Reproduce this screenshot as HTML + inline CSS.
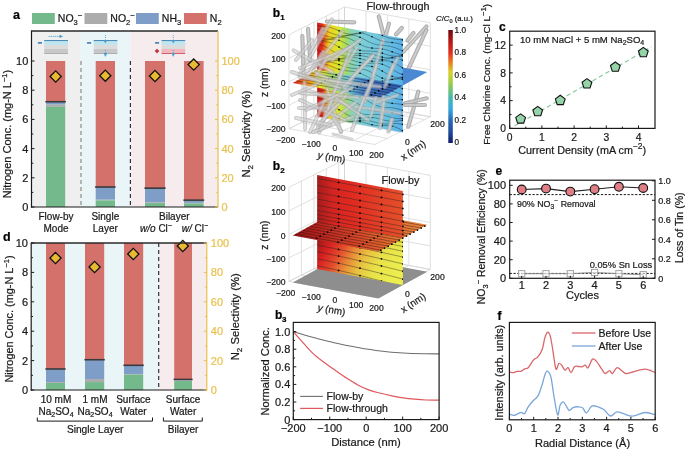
<!DOCTYPE html>
<html><head><meta charset="utf-8"><style>
html,body{margin:0;padding:0;background:#fff;width:685px;height:450px;overflow:hidden}
svg{display:block;font-family:"Liberation Sans",sans-serif;will-change:transform}
text{stroke:currentColor;stroke-width:0.22px}
</style></head><body>
<svg width="685" height="450" viewBox="0 0 685 450">
<defs><linearGradient id="b2h" gradientUnits="userSpaceOnUse" x1="292.70" y1="235.50" x2="427.30" y2="224.70"><stop offset="0" stop-color="#8c1414"/><stop offset="0.2" stop-color="#b82420"/><stop offset="0.45" stop-color="#d44428"/><stop offset="0.7" stop-color="#e06c30"/><stop offset="1" stop-color="#e88a40"/></linearGradient><linearGradient id="b2vt" gradientUnits="userSpaceOnUse" x1="317.15" y1="0.00" x2="402.85" y2="0.00"><stop offset="0" stop-color="#a41c1c"/><stop offset="0.18" stop-color="#d42420"/><stop offset="0.4" stop-color="#e02a20"/><stop offset="1" stop-color="#e4502a"/></linearGradient><linearGradient id="b2vb" gradientUnits="userSpaceOnUse" x1="317.00" y1="240.00" x2="392.00" y2="285.00"><stop offset="0" stop-color="#961818"/><stop offset="0.15" stop-color="#d82020"/><stop offset="0.3" stop-color="#e44c2c"/><stop offset="0.43" stop-color="#e88a36"/><stop offset="0.57" stop-color="#e8c040"/><stop offset="0.74" stop-color="#e8e248"/><stop offset="1" stop-color="#ecee4e"/></linearGradient><clipPath id="clipb2lo"><polygon points="317.15,222.10 402.85,238.10 402.85,285.10 317.15,269.10"/></clipPath><linearGradient id="b1h" gradientUnits="userSpaceOnUse" x1="292.70" y1="82.90" x2="427.30" y2="72.10"><stop offset="0" stop-color="#d01c1c"/><stop offset="0.1" stop-color="#f08020"/><stop offset="0.2" stop-color="#e8e030"/><stop offset="0.3" stop-color="#a0d870"/><stop offset="0.4" stop-color="#70c8d8"/><stop offset="0.52" stop-color="#5aa0dc"/><stop offset="0.7" stop-color="#4c86d0"/><stop offset="1" stop-color="#4a8ad4"/></linearGradient><linearGradient id="b1vt" gradientUnits="userSpaceOnUse" x1="317.15" y1="0.00" x2="402.85" y2="0.00"><stop offset="0" stop-color="#d01818"/><stop offset="0.06" stop-color="#e03020"/><stop offset="0.1" stop-color="#f08820"/><stop offset="0.14" stop-color="#f0d020"/><stop offset="0.26" stop-color="#d8e830"/><stop offset="0.33" stop-color="#a8dc60"/><stop offset="0.4" stop-color="#88d4b0"/><stop offset="0.5" stop-color="#7cd0d8"/><stop offset="0.78" stop-color="#6cc4e0"/><stop offset="1" stop-color="#58b0e8"/></linearGradient><clipPath id="clipb1v"><polygon points="317.15,22.50 402.85,38.50 402.85,132.50 317.15,116.50"/></clipPath><linearGradient id="b1hd" gradientUnits="userSpaceOnUse" x1="355.11" y1="80.18" x2="335.55" y2="90.90"><stop offset="0" stop-color="#3058b0"/><stop offset="1" stop-color="#2850a8"/></linearGradient><linearGradient id="b1hdark" gradientUnits="userSpaceOnUse" x1="355.71" y1="76.70" x2="381.45" y2="94.08"><stop offset="0" stop-color="#2c54a8"/><stop offset="1" stop-color="#2c54a8"/></linearGradient><linearGradient id="b1hfade" gradientUnits="userSpaceOnUse" x1="351.43" y1="75.90" x2="393.68" y2="87.38"><stop offset="0" stop-color="#2a50a8" stop-opacity="0"/><stop offset="0.45" stop-color="#2a50a8" stop-opacity="0.55"/><stop offset="1" stop-color="#2a50a8" stop-opacity="0.7"/></linearGradient><linearGradient id="jet" gradientUnits="userSpaceOnUse" x1="0.00" y1="143.00" x2="0.00" y2="30.00"><stop offset="0" stop-color="#101a6c"/><stop offset="0.1" stop-color="#204c9c"/><stop offset="0.2" stop-color="#2868b8"/><stop offset="0.3" stop-color="#38a8e0"/><stop offset="0.4" stop-color="#48b8b0"/><stop offset="0.5" stop-color="#88c860"/><stop offset="0.56" stop-color="#b0d040"/><stop offset="0.63" stop-color="#d8d030"/><stop offset="0.71" stop-color="#e88020"/><stop offset="0.8" stop-color="#e03020"/><stop offset="0.9" stop-color="#b81818"/><stop offset="1" stop-color="#6a0a10"/></linearGradient></defs>
<rect x="32" y="31" width="48.7" height="176" fill="#efefef" />
<rect x="80.7" y="31" width="49.999999999999986" height="176" fill="#eaf5f8" />
<rect x="130.7" y="31" width="87.30000000000001" height="176" fill="#f7eced" />
<line x1="81" y1="61" x2="81" y2="207" stroke="#8a8a8a" stroke-width="1.2" stroke-dasharray="4 3"/>
<line x1="130.4" y1="61" x2="130.4" y2="207" stroke="#333" stroke-width="1.2" stroke-dasharray="4 3"/>
<rect x="46" y="61.0" width="19.200000000000003" height="40.73400000000001" fill="#d4716b" />
<rect x="46" y="101.73400000000001" width="19.200000000000003" height="2.9200000000000017" fill="#7e9ec8" />
<rect x="46" y="104.65400000000001" width="19.200000000000003" height="2.1899999999999835" fill="#acacac" />
<rect x="46" y="106.844" width="19.200000000000003" height="100.156" fill="#74b98c" />
<line x1="45.4" y1="101.73400000000001" x2="65.8" y2="101.73400000000001" stroke="#3a3a3a" stroke-width="1.6" />
<rect x="95.7" y="61.0" width="19.299999999999997" height="125.99799999999999" fill="#d4716b" />
<rect x="95.7" y="186.998" width="19.299999999999997" height="12.701999999999998" fill="#7e9ec8" />
<rect x="95.7" y="199.7" width="19.299999999999997" height="0.7300000000000182" fill="#acacac" />
<rect x="95.7" y="200.43" width="19.299999999999997" height="6.569999999999993" fill="#74b98c" />
<line x1="95.10000000000001" y1="186.998" x2="115.6" y2="186.998" stroke="#3a3a3a" stroke-width="1.6" />
<rect x="145" y="61.0" width="20" height="127.166" fill="#d4716b" />
<rect x="145" y="188.166" width="20" height="14.307999999999993" fill="#7e9ec8" />
<rect x="145" y="202.474" width="20" height="0.5840000000000032" fill="#acacac" />
<rect x="145" y="203.058" width="20" height="3.9420000000000073" fill="#74b98c" />
<line x1="144.4" y1="188.166" x2="165.6" y2="188.166" stroke="#3a3a3a" stroke-width="1.6" />
<rect x="184" y="61.0" width="19.599999999999994" height="139.138" fill="#d4716b" />
<rect x="184" y="200.138" width="19.599999999999994" height="2.774000000000001" fill="#7e9ec8" />
<rect x="184" y="202.912" width="19.599999999999994" height="0.5840000000000032" fill="#acacac" />
<rect x="184" y="203.496" width="19.599999999999994" height="3.5039999999999907" fill="#74b98c" />
<line x1="183.4" y1="200.138" x2="204.2" y2="200.138" stroke="#3a3a3a" stroke-width="1.6" />
<path d="M55.7 70.9 L61.300000000000004 76.5 L55.7 82.1 L50.1 76.5 Z" fill="#e8b931" stroke="#111" stroke-width="1.3"/>
<path d="M105.3 70.10000000000001 L110.89999999999999 75.7 L105.3 81.3 L99.7 75.7 Z" fill="#e8b931" stroke="#111" stroke-width="1.3"/>
<path d="M155 70.4 L160.6 76 L155 81.6 L149.4 76 Z" fill="#e8b931" stroke="#111" stroke-width="1.3"/>
<path d="M193.7 58.99999999999999 L199.29999999999998 64.6 L193.7 70.19999999999999 L188.1 64.6 Z" fill="#e8b931" stroke="#111" stroke-width="1.3"/>
<line x1="31.5" y1="31" x2="218" y2="31" stroke="#2a2a2a" stroke-width="1.3" />
<line x1="31.5" y1="30.4" x2="31.5" y2="207.6" stroke="#1a1a1a" stroke-width="1.2" />
<line x1="30.9" y1="207" x2="218" y2="207" stroke="#1a1a1a" stroke-width="1.2" />
<line x1="218" y1="31" x2="218" y2="207.6" stroke="#e8c14e" stroke-width="1.2" />
<line x1="31.5" y1="207.0" x2="34.5" y2="207.0" stroke="#1a1a1a" stroke-width="1" />
<line x1="218" y1="207.0" x2="215" y2="207.0" stroke="#e8c14e" stroke-width="1" />
<text x="28.3" y="210.9" font-size="11" text-anchor="end" fill="#1a1a1a" color="#1a1a1a" font-weight="normal" >0</text>
<text x="221.5" y="210.9" font-size="11" text-anchor="start" fill="#e8c14e" color="#e8c14e" font-weight="normal" >0</text>
<line x1="31.5" y1="192.4" x2="33.3" y2="192.4" stroke="#1a1a1a" stroke-width="1" />
<line x1="218" y1="192.4" x2="216.2" y2="192.4" stroke="#e8c14e" stroke-width="1" />
<line x1="31.5" y1="177.8" x2="34.5" y2="177.8" stroke="#1a1a1a" stroke-width="1" />
<line x1="218" y1="177.8" x2="215" y2="177.8" stroke="#e8c14e" stroke-width="1" />
<text x="28.3" y="181.70000000000002" font-size="11" text-anchor="end" fill="#1a1a1a" color="#1a1a1a" font-weight="normal" >2</text>
<text x="221.5" y="181.70000000000002" font-size="11" text-anchor="start" fill="#e8c14e" color="#e8c14e" font-weight="normal" >20</text>
<line x1="31.5" y1="163.2" x2="33.3" y2="163.2" stroke="#1a1a1a" stroke-width="1" />
<line x1="218" y1="163.2" x2="216.2" y2="163.2" stroke="#e8c14e" stroke-width="1" />
<line x1="31.5" y1="148.6" x2="34.5" y2="148.6" stroke="#1a1a1a" stroke-width="1" />
<line x1="218" y1="148.6" x2="215" y2="148.6" stroke="#e8c14e" stroke-width="1" />
<text x="28.3" y="152.5" font-size="11" text-anchor="end" fill="#1a1a1a" color="#1a1a1a" font-weight="normal" >4</text>
<text x="221.5" y="152.5" font-size="11" text-anchor="start" fill="#e8c14e" color="#e8c14e" font-weight="normal" >40</text>
<line x1="31.5" y1="134.0" x2="33.3" y2="134.0" stroke="#1a1a1a" stroke-width="1" />
<line x1="218" y1="134.0" x2="216.2" y2="134.0" stroke="#e8c14e" stroke-width="1" />
<line x1="31.5" y1="119.4" x2="34.5" y2="119.4" stroke="#1a1a1a" stroke-width="1" />
<line x1="218" y1="119.4" x2="215" y2="119.4" stroke="#e8c14e" stroke-width="1" />
<text x="28.3" y="123.30000000000001" font-size="11" text-anchor="end" fill="#1a1a1a" color="#1a1a1a" font-weight="normal" >6</text>
<text x="221.5" y="123.30000000000001" font-size="11" text-anchor="start" fill="#e8c14e" color="#e8c14e" font-weight="normal" >60</text>
<line x1="31.5" y1="104.8" x2="33.3" y2="104.8" stroke="#1a1a1a" stroke-width="1" />
<line x1="218" y1="104.8" x2="216.2" y2="104.8" stroke="#e8c14e" stroke-width="1" />
<line x1="31.5" y1="90.2" x2="34.5" y2="90.2" stroke="#1a1a1a" stroke-width="1" />
<line x1="218" y1="90.2" x2="215" y2="90.2" stroke="#e8c14e" stroke-width="1" />
<text x="28.3" y="94.10000000000001" font-size="11" text-anchor="end" fill="#1a1a1a" color="#1a1a1a" font-weight="normal" >8</text>
<text x="221.5" y="94.10000000000001" font-size="11" text-anchor="start" fill="#e8c14e" color="#e8c14e" font-weight="normal" >80</text>
<line x1="31.5" y1="75.6" x2="33.3" y2="75.6" stroke="#1a1a1a" stroke-width="1" />
<line x1="218" y1="75.6" x2="216.2" y2="75.6" stroke="#e8c14e" stroke-width="1" />
<line x1="31.5" y1="61.0" x2="34.5" y2="61.0" stroke="#1a1a1a" stroke-width="1" />
<line x1="218" y1="61.0" x2="215" y2="61.0" stroke="#e8c14e" stroke-width="1" />
<text x="28.3" y="64.9" font-size="11" text-anchor="end" fill="#1a1a1a" color="#1a1a1a" font-weight="normal" >10</text>
<text x="221.5" y="64.9" font-size="11" text-anchor="start" fill="#e8c14e" color="#e8c14e" font-weight="normal" >100</text>
<rect x="31.5" y="243" width="127.80000000000001" height="147" fill="#eaf5f8" />
<rect x="159.3" y="243" width="47.5" height="147" fill="#f7eced" />
<line x1="158.7" y1="243" x2="158.7" y2="390" stroke="#333" stroke-width="1.2" stroke-dasharray="4 3"/>
<rect x="46" y="243.0" width="19" height="125.97899999999998" fill="#d4716b" />
<rect x="46" y="368.979" width="19" height="13.083000000000027" fill="#7e9ec8" />
<rect x="46" y="382.062" width="19" height="0.882000000000005" fill="#acacac" />
<rect x="46" y="382.944" width="19" height="7.055999999999983" fill="#74b98c" />
<line x1="45.4" y1="368.979" x2="65.6" y2="368.979" stroke="#3a3a3a" stroke-width="1.6" />
<rect x="85" y="243.0" width="19.200000000000003" height="116.71800000000002" fill="#d4716b" />
<rect x="85" y="359.718" width="19.200000000000003" height="19.257000000000005" fill="#7e9ec8" />
<rect x="85" y="378.975" width="19.200000000000003" height="3.086999999999989" fill="#acacac" />
<rect x="85" y="382.062" width="19.200000000000003" height="7.937999999999988" fill="#74b98c" />
<line x1="84.4" y1="359.718" x2="104.8" y2="359.718" stroke="#3a3a3a" stroke-width="1.6" />
<rect x="124" y="243.0" width="19.19999999999999" height="122.30399999999997" fill="#d4716b" />
<rect x="124" y="365.304" width="19.19999999999999" height="8.673000000000002" fill="#7e9ec8" />
<rect x="124" y="373.977" width="19.19999999999999" height="0.5880000000000223" fill="#acacac" />
<rect x="124" y="374.565" width="19.19999999999999" height="15.435000000000002" fill="#74b98c" />
<line x1="123.4" y1="365.304" x2="143.79999999999998" y2="365.304" stroke="#3a3a3a" stroke-width="1.6" />
<rect x="174.2" y="243.0" width="17.80000000000001" height="136.416" fill="#d4716b" />
<rect x="174.2" y="379.416" width="17.80000000000001" height="1.0289999999999964" fill="#7e9ec8" />
<rect x="174.2" y="380.445" width="17.80000000000001" height="0.5880000000000223" fill="#acacac" />
<rect x="174.2" y="381.033" width="17.80000000000001" height="8.966999999999985" fill="#74b98c" />
<line x1="173.6" y1="379.416" x2="192.6" y2="379.416" stroke="#3a3a3a" stroke-width="1.6" />
<path d="M55.5 252.4 L61.1 258 L55.5 263.6 L49.9 258 Z" fill="#e8b931" stroke="#111" stroke-width="1.3"/>
<path d="M94.6 261.4 L100.19999999999999 267 L94.6 272.6 L89.0 267 Z" fill="#e8b931" stroke="#111" stroke-width="1.3"/>
<path d="M133.3 248.4 L138.9 254 L133.3 259.6 L127.70000000000002 254 Z" fill="#e8b931" stroke="#111" stroke-width="1.3"/>
<path d="M182.8 240.4 L188.4 246 L182.8 251.6 L177.20000000000002 246 Z" fill="#e8b931" stroke="#111" stroke-width="1.3"/>
<line x1="31.2" y1="243" x2="206.8" y2="243" stroke="#2a2a2a" stroke-width="1.3" />
<line x1="31.2" y1="242.4" x2="31.2" y2="390.6" stroke="#1a1a1a" stroke-width="1.2" />
<line x1="30.599999999999998" y1="390" x2="206.8" y2="390" stroke="#1a1a1a" stroke-width="1.2" />
<line x1="206.8" y1="243" x2="206.8" y2="390.6" stroke="#e8c14e" stroke-width="1.2" />
<line x1="31.2" y1="390.0" x2="34.2" y2="390.0" stroke="#1a1a1a" stroke-width="1" />
<line x1="206.8" y1="390.0" x2="203.8" y2="390.0" stroke="#e8c14e" stroke-width="1" />
<text x="28" y="393.9" font-size="11" text-anchor="end" fill="#1a1a1a" color="#1a1a1a" font-weight="normal" >0</text>
<text x="210.8" y="393.9" font-size="11" text-anchor="start" fill="#e8c14e" color="#e8c14e" font-weight="normal" >0</text>
<line x1="31.2" y1="375.3" x2="33.0" y2="375.3" stroke="#1a1a1a" stroke-width="1" />
<line x1="206.8" y1="375.3" x2="205.0" y2="375.3" stroke="#e8c14e" stroke-width="1" />
<line x1="31.2" y1="360.6" x2="34.2" y2="360.6" stroke="#1a1a1a" stroke-width="1" />
<line x1="206.8" y1="360.6" x2="203.8" y2="360.6" stroke="#e8c14e" stroke-width="1" />
<text x="28" y="364.5" font-size="11" text-anchor="end" fill="#1a1a1a" color="#1a1a1a" font-weight="normal" >2</text>
<text x="210.8" y="364.5" font-size="11" text-anchor="start" fill="#e8c14e" color="#e8c14e" font-weight="normal" >20</text>
<line x1="31.2" y1="345.9" x2="33.0" y2="345.9" stroke="#1a1a1a" stroke-width="1" />
<line x1="206.8" y1="345.9" x2="205.0" y2="345.9" stroke="#e8c14e" stroke-width="1" />
<line x1="31.2" y1="331.2" x2="34.2" y2="331.2" stroke="#1a1a1a" stroke-width="1" />
<line x1="206.8" y1="331.2" x2="203.8" y2="331.2" stroke="#e8c14e" stroke-width="1" />
<text x="28" y="335.09999999999997" font-size="11" text-anchor="end" fill="#1a1a1a" color="#1a1a1a" font-weight="normal" >4</text>
<text x="210.8" y="335.09999999999997" font-size="11" text-anchor="start" fill="#e8c14e" color="#e8c14e" font-weight="normal" >40</text>
<line x1="31.2" y1="316.5" x2="33.0" y2="316.5" stroke="#1a1a1a" stroke-width="1" />
<line x1="206.8" y1="316.5" x2="205.0" y2="316.5" stroke="#e8c14e" stroke-width="1" />
<line x1="31.2" y1="301.8" x2="34.2" y2="301.8" stroke="#1a1a1a" stroke-width="1" />
<line x1="206.8" y1="301.8" x2="203.8" y2="301.8" stroke="#e8c14e" stroke-width="1" />
<text x="28" y="305.7" font-size="11" text-anchor="end" fill="#1a1a1a" color="#1a1a1a" font-weight="normal" >6</text>
<text x="210.8" y="305.7" font-size="11" text-anchor="start" fill="#e8c14e" color="#e8c14e" font-weight="normal" >60</text>
<line x1="31.2" y1="287.1" x2="33.0" y2="287.1" stroke="#1a1a1a" stroke-width="1" />
<line x1="206.8" y1="287.1" x2="205.0" y2="287.1" stroke="#e8c14e" stroke-width="1" />
<line x1="31.2" y1="272.4" x2="34.2" y2="272.4" stroke="#1a1a1a" stroke-width="1" />
<line x1="206.8" y1="272.4" x2="203.8" y2="272.4" stroke="#e8c14e" stroke-width="1" />
<text x="28" y="276.29999999999995" font-size="11" text-anchor="end" fill="#1a1a1a" color="#1a1a1a" font-weight="normal" >8</text>
<text x="210.8" y="276.29999999999995" font-size="11" text-anchor="start" fill="#e8c14e" color="#e8c14e" font-weight="normal" >80</text>
<line x1="31.2" y1="257.70000000000005" x2="33.0" y2="257.70000000000005" stroke="#1a1a1a" stroke-width="1" />
<line x1="206.8" y1="257.70000000000005" x2="205.0" y2="257.70000000000005" stroke="#e8c14e" stroke-width="1" />
<line x1="31.2" y1="243.0" x2="34.2" y2="243.0" stroke="#1a1a1a" stroke-width="1" />
<line x1="206.8" y1="243.0" x2="203.8" y2="243.0" stroke="#e8c14e" stroke-width="1" />
<text x="28" y="246.9" font-size="11" text-anchor="end" fill="#1a1a1a" color="#1a1a1a" font-weight="normal" >10</text>
<text x="210.8" y="246.9" font-size="11" text-anchor="start" fill="#e8c14e" color="#e8c14e" font-weight="normal" >100</text>
<rect x="32" y="13" width="22.8" height="11" fill="#74b98c" />
<text x="57.8" y="22" font-size="10.5" text-anchor="start" fill="#1a1a1a" color="#1a1a1a" font-weight="normal" >NO<tspan font-size="7.5" baseline-shift="-2.62">3</tspan><tspan font-size="7.5" baseline-shift="4.50">−</tspan></text>
<rect x="84.5" y="13" width="22.8" height="11" fill="#acacac" />
<text x="110.3" y="22" font-size="10.5" text-anchor="start" fill="#1a1a1a" color="#1a1a1a" font-weight="normal" >NO<tspan font-size="7.5" baseline-shift="-2.62">2</tspan><tspan font-size="7.5" baseline-shift="4.50">−</tspan></text>
<rect x="136" y="13" width="22.8" height="11" fill="#7e9ec8" />
<text x="161.8" y="22" font-size="10.5" text-anchor="start" fill="#1a1a1a" color="#1a1a1a" font-weight="normal" >NH<tspan font-size="7.5" baseline-shift="-2.62">3</tspan></text>
<rect x="184" y="13" width="22.8" height="11" fill="#d4716b" />
<text x="209.8" y="22" font-size="10.5" text-anchor="start" fill="#1a1a1a" color="#1a1a1a" font-weight="normal" >N<tspan font-size="7.5" baseline-shift="-2.62">2</tspan></text>
<text x="13" y="18.8" font-size="12.5" text-anchor="start" fill="#000" color="#000" font-weight="bold" >a</text>
<text x="3" y="241" font-size="12.5" text-anchor="start" fill="#000" color="#000" font-weight="bold" >d</text>
<text x="0" y="0" font-size="11.0" text-anchor="middle" fill="#1a1a1a" color="#1a1a1a" transform="translate(11.3 134) rotate(-90)">Nitrogen Conc. (mg-N L<tspan font-size="7.5" baseline-shift="4.50">−1</tspan>)</text>
<text x="0" y="0" font-size="11.26" text-anchor="middle" fill="#1a1a1a" color="#1a1a1a" transform="translate(250.2 134.1) rotate(-90)">N<tspan font-size="8" baseline-shift="-2.80">2</tspan> Selectivity (%)</text>
<text x="0" y="0" font-size="10.9" text-anchor="middle" fill="#1a1a1a" color="#1a1a1a" transform="translate(12.5 319) rotate(-90)">Nitrogen Conc. (mg-N L<tspan font-size="7.5" baseline-shift="4.50">−1</tspan>)</text>
<text x="0" y="0" font-size="11.26" text-anchor="middle" fill="#1a1a1a" color="#1a1a1a" transform="translate(239.2 316.8) rotate(-90)">N<tspan font-size="8" baseline-shift="-2.80">2</tspan> Selectivity (%)</text>
<text x="56" y="220.3" font-size="10" text-anchor="middle" fill="#1a1a1a" color="#1a1a1a" font-weight="normal" >Flow-by</text>
<text x="56" y="232.3" font-size="10" text-anchor="middle" fill="#1a1a1a" color="#1a1a1a" font-weight="normal" >Mode</text>
<text x="105.3" y="220.3" font-size="10" text-anchor="middle" fill="#1a1a1a" color="#1a1a1a" font-weight="normal" >Single</text>
<text x="105.3" y="232.3" font-size="10" text-anchor="middle" fill="#1a1a1a" color="#1a1a1a" font-weight="normal" >Layer</text>
<text x="174.3" y="220.3" font-size="10" text-anchor="middle" fill="#1a1a1a" color="#1a1a1a" font-weight="normal" >Bilayer</text>
<text x="156" y="232.3" font-size="10" text-anchor="middle" fill="#1a1a1a" color="#1a1a1a" font-weight="normal" ><tspan font-style="italic">w/o</tspan> Cl<tspan font-size="7" baseline-shift="4">−</tspan></text>
<text x="195" y="232.3" font-size="10" text-anchor="middle" fill="#1a1a1a" color="#1a1a1a" font-weight="normal" ><tspan font-style="italic">w/</tspan> Cl<tspan font-size="7" baseline-shift="4">−</tspan></text>
<text x="56" y="402.8" font-size="10" text-anchor="middle" fill="#1a1a1a" color="#1a1a1a" font-weight="normal" >10 mM</text>
<text x="56" y="414.8" font-size="10" text-anchor="middle" fill="#1a1a1a" color="#1a1a1a" font-weight="normal" >Na<tspan font-size="7" baseline-shift="-2.45">2</tspan>SO<tspan font-size="7" baseline-shift="-2.45">4</tspan></text>
<text x="95" y="402.8" font-size="10" text-anchor="middle" fill="#1a1a1a" color="#1a1a1a" font-weight="normal" >1 mM</text>
<text x="95" y="414.8" font-size="10" text-anchor="middle" fill="#1a1a1a" color="#1a1a1a" font-weight="normal" >Na<tspan font-size="7" baseline-shift="-2.45">2</tspan>SO<tspan font-size="7" baseline-shift="-2.45">4</tspan></text>
<text x="133.4" y="402.8" font-size="10" text-anchor="middle" fill="#1a1a1a" color="#1a1a1a" font-weight="normal" >Surface</text>
<text x="133.4" y="414.8" font-size="10" text-anchor="middle" fill="#1a1a1a" color="#1a1a1a" font-weight="normal" >Water</text>
<text x="183.1" y="402.8" font-size="10" text-anchor="middle" fill="#1a1a1a" color="#1a1a1a" font-weight="normal" >Surface</text>
<text x="183.1" y="414.8" font-size="10" text-anchor="middle" fill="#1a1a1a" color="#1a1a1a" font-weight="normal" >Water</text>
<path d="M37.3 417.5 V421.1 H152.5 V417.5" fill="none" stroke="#1a1a1a" stroke-width="1"/>
<path d="M163.4 417.5 V421.1 H202.3 V417.5" fill="none" stroke="#1a1a1a" stroke-width="1"/>
<text x="95.2" y="433.4" font-size="10.2" text-anchor="middle" fill="#1a1a1a" color="#1a1a1a" font-weight="normal" >Single Layer</text>
<text x="183.1" y="433.2" font-size="10" text-anchor="middle" fill="#1a1a1a" color="#1a1a1a" font-weight="normal" >Bilayer</text>
<rect x="37.8" y="42.1" width="4.2" height="1.7" fill="#4a86b4" rx="0.5"/>
<rect x="44.2" y="41.1" width="23.799999999999997" height="3.9" fill="#bfe6ee" />
<rect x="44.2" y="45" width="23.799999999999997" height="4" fill="#dcdcdc" />
<rect x="44.2" y="49" width="23.799999999999997" height="4" fill="#c8c8c8" />
<rect x="44.2" y="53" width="23.799999999999997" height="0.9" fill="#a8a8a8" />
<rect x="44.2" y="40" width="23.799999999999997" height="1.1" fill="#4f8bb8" />
<circle cx="49.2" cy="36.4" r="0.55" fill="#4d9dcf"/>
<circle cx="51.2" cy="36.4" r="0.55" fill="#4d9dcf"/>
<circle cx="53.2" cy="36.4" r="0.55" fill="#4d9dcf"/>
<circle cx="55.2" cy="36.4" r="0.55" fill="#4d9dcf"/>
<circle cx="57.2" cy="36.4" r="0.55" fill="#4d9dcf"/>
<path d="M59.5 34.7 L63.2 36.4 L59.5 38.1 Z" fill="#4d9dcf"/>
<line x1="58.5" y1="36.4" x2="61" y2="36.4" stroke="#4d9dcf" stroke-width="0.8" />
<rect x="87" y="42.1" width="4.2" height="1.7" fill="#4a86b4" rx="0.5"/>
<rect x="93.7" y="41.1" width="23.700000000000003" height="3.9" fill="#bfe6ee" />
<rect x="93.7" y="45" width="23.700000000000003" height="4" fill="#dcdcdc" />
<rect x="93.7" y="49" width="23.700000000000003" height="4" fill="#c8c8c8" />
<rect x="93.7" y="53" width="23.700000000000003" height="0.9" fill="#a8a8a8" />
<rect x="93.7" y="40" width="23.700000000000003" height="1.1" fill="#4f8bb8" />
<circle cx="105.4" cy="35.5" r="0.55" fill="#4d9dcf"/>
<circle cx="105.4" cy="37.5" r="0.55" fill="#4d9dcf"/>
<circle cx="105.4" cy="50.2" r="0.55" fill="#4d9dcf"/>
<path d="M103.60000000000001 40.3 L105.4 43.4 L107.2 40.3 Z" fill="#4d9dcf"/>
<line x1="105.4" y1="39.3" x2="105.4" y2="41.5" stroke="#4d9dcf" stroke-width="0.8" />
<path d="M103.5 53 L105.4 57 L107.30000000000001 53 Z" fill="#4d9dcf"/>
<line x1="105.4" y1="51.8" x2="105.4" y2="54" stroke="#4d9dcf" stroke-width="0.8" />
<rect x="155" y="42.1" width="4.2" height="1.7" fill="#4a86b4" rx="0.5"/>
<rect x="161.5" y="41.1" width="23.69999999999999" height="3.9" fill="#bfe6ee" />
<rect x="161.5" y="45" width="23.69999999999999" height="4" fill="#dcdcdc" />
<rect x="161.5" y="49" width="23.69999999999999" height="4" fill="#f0b8bc" />
<rect x="161.5" y="53" width="23.69999999999999" height="0.9" fill="#d0505a" />
<rect x="161.5" y="40" width="23.69999999999999" height="1.1" fill="#4f8bb8" />
<rect x="154.9" y="50.3" width="4.2" height="1.5" fill="#c4282c" />
<rect x="156.25" y="48.95" width="1.5" height="4.2" fill="#c4282c" />
<circle cx="173.3" cy="35.5" r="0.55" fill="#4d9dcf"/>
<circle cx="173.3" cy="37.5" r="0.55" fill="#4d9dcf"/>
<circle cx="173.3" cy="50.2" r="0.55" fill="#4d9dcf"/>
<path d="M171.5 40.3 L173.3 43.4 L175.10000000000002 40.3 Z" fill="#4d9dcf"/>
<line x1="173.3" y1="39.3" x2="173.3" y2="41.5" stroke="#4d9dcf" stroke-width="0.8" />
<path d="M171.4 53 L173.3 57 L175.20000000000002 53 Z" fill="#4d9dcf"/>
<line x1="173.3" y1="51.8" x2="173.3" y2="54" stroke="#4d9dcf" stroke-width="0.8" />
<line x1="514.53" y1="125.971" x2="651.38" y2="46.855000000000004" stroke="#86c99c" stroke-width="1.2" stroke-dasharray="4.5 3"/>
<polygon points="520.65,113.83 525.55,117.38 523.68,123.14 517.62,123.14 515.75,117.38" fill="#94d4a8" stroke="#111" stroke-width="1.1"/>
<polygon points="537.71,106.40 542.61,109.96 540.74,115.72 534.69,115.72 532.82,109.96" fill="#94d4a8" stroke="#111" stroke-width="1.1"/>
<polygon points="560.25,95.30 565.15,98.85 563.28,104.61 557.23,104.61 555.36,98.85" fill="#94d4a8" stroke="#111" stroke-width="1.1"/>
<polygon points="586.98,78.64 591.88,82.20 590.01,87.96 583.95,87.96 582.08,82.20" fill="#94d4a8" stroke="#111" stroke-width="1.1"/>
<polygon points="615.32,61.98 620.21,65.54 618.34,71.30 612.29,71.30 610.42,65.54" fill="#94d4a8" stroke="#111" stroke-width="1.1"/>
<polygon points="643.33,47.41 648.23,50.97 646.36,56.73 640.30,56.73 638.43,50.97" fill="#94d4a8" stroke="#111" stroke-width="1.1"/>
<rect x="509.7" y="31.2" width="145.3" height="97.2" fill="none" stroke="#1a1a1a" stroke-width="1.2"/>
<line x1="509.7" y1="128.4" x2="512.7" y2="128.4" stroke="#1a1a1a" stroke-width="1" />
<text x="505.9" y="132.1" font-size="10.3" text-anchor="end" fill="#1a1a1a" color="#1a1a1a" font-weight="normal" >0</text>
<line x1="509.7" y1="114.52000000000001" x2="511.5" y2="114.52000000000001" stroke="#1a1a1a" stroke-width="1" />
<line x1="509.7" y1="100.64" x2="512.7" y2="100.64" stroke="#1a1a1a" stroke-width="1" />
<text x="505.9" y="104.34" font-size="10.3" text-anchor="end" fill="#1a1a1a" color="#1a1a1a" font-weight="normal" >4</text>
<line x1="509.7" y1="86.76" x2="511.5" y2="86.76" stroke="#1a1a1a" stroke-width="1" />
<line x1="509.7" y1="72.88" x2="512.7" y2="72.88" stroke="#1a1a1a" stroke-width="1" />
<text x="505.9" y="76.58" font-size="10.3" text-anchor="end" fill="#1a1a1a" color="#1a1a1a" font-weight="normal" >8</text>
<line x1="509.7" y1="59.0" x2="511.5" y2="59.0" stroke="#1a1a1a" stroke-width="1" />
<line x1="509.7" y1="45.120000000000005" x2="512.7" y2="45.120000000000005" stroke="#1a1a1a" stroke-width="1" />
<text x="505.9" y="48.82000000000001" font-size="10.3" text-anchor="end" fill="#1a1a1a" color="#1a1a1a" font-weight="normal" >12</text>
<line x1="509.7" y1="128.4" x2="509.7" y2="125.4" stroke="#1a1a1a" stroke-width="1" />
<text x="509.7" y="140.6" font-size="10.3" text-anchor="middle" fill="#1a1a1a" color="#1a1a1a" font-weight="normal" >0</text>
<line x1="525.8" y1="128.4" x2="525.8" y2="126.60000000000001" stroke="#1a1a1a" stroke-width="1" />
<line x1="541.9" y1="128.4" x2="541.9" y2="125.4" stroke="#1a1a1a" stroke-width="1" />
<text x="541.9" y="140.6" font-size="10.3" text-anchor="middle" fill="#1a1a1a" color="#1a1a1a" font-weight="normal" >1</text>
<line x1="558.0" y1="128.4" x2="558.0" y2="126.60000000000001" stroke="#1a1a1a" stroke-width="1" />
<line x1="574.1" y1="128.4" x2="574.1" y2="125.4" stroke="#1a1a1a" stroke-width="1" />
<text x="574.1" y="140.6" font-size="10.3" text-anchor="middle" fill="#1a1a1a" color="#1a1a1a" font-weight="normal" >2</text>
<line x1="590.2" y1="128.4" x2="590.2" y2="126.60000000000001" stroke="#1a1a1a" stroke-width="1" />
<line x1="606.3" y1="128.4" x2="606.3" y2="125.4" stroke="#1a1a1a" stroke-width="1" />
<text x="606.3" y="140.6" font-size="10.3" text-anchor="middle" fill="#1a1a1a" color="#1a1a1a" font-weight="normal" >3</text>
<line x1="622.4" y1="128.4" x2="622.4" y2="126.60000000000001" stroke="#1a1a1a" stroke-width="1" />
<line x1="638.5" y1="128.4" x2="638.5" y2="125.4" stroke="#1a1a1a" stroke-width="1" />
<text x="638.5" y="140.6" font-size="10.3" text-anchor="middle" fill="#1a1a1a" color="#1a1a1a" font-weight="normal" >4</text>
<text x="499" y="30.8" font-size="12" text-anchor="start" fill="#000" color="#000" font-weight="bold" >c</text>
<text x="520" y="43.3" font-size="9.55" text-anchor="start" fill="#1a1a1a" color="#1a1a1a" font-weight="normal" >10 mM NaCl + 5 mM Na<tspan font-size="7" baseline-shift="-2.45">2</tspan>SO<tspan font-size="7" baseline-shift="-2.45">4</tspan></text>
<text x="518.3" y="154.3" font-size="10.8" text-anchor="start" fill="#1a1a1a" color="#1a1a1a" font-weight="normal" >Current Density (mA cm<tspan font-size="8.5" baseline-shift="5.10">−2</tspan>)</text>
<text x="0" y="0" font-size="9.85" text-anchor="middle" fill="#1a1a1a" color="#1a1a1a" transform="translate(490.2 74.3) rotate(-90)">Free Chlorine Conc. (mg-Cl L<tspan font-size="7.8" baseline-shift="4.20">−1</tspan>)</text>
<line x1="509.7" y1="194.60000000000002" x2="655" y2="194.60000000000002" stroke="#111" stroke-width="1" stroke-dasharray="2.2 1.6"/>
<line x1="509.7" y1="273.425" x2="655" y2="273.425" stroke="#111" stroke-width="1" stroke-dasharray="2.2 1.6"/>
<polyline points="521.7,273.7 546.0,273.7 570.3000000000001,273.7 594.6,272.5 618.9000000000001,273.7 643.2,274.7" fill="none" stroke="#8a8a8a" stroke-width="1"/>
<rect x="518.6" y="270.59999999999997" width="6.2" height="6.2" fill="#fff" fill-opacity="0.55" stroke="#a0a0a0" stroke-width="1"/>
<rect x="542.9" y="270.59999999999997" width="6.2" height="6.2" fill="#fff" fill-opacity="0.55" stroke="#a0a0a0" stroke-width="1"/>
<rect x="567.2" y="270.59999999999997" width="6.2" height="6.2" fill="#fff" fill-opacity="0.55" stroke="#a0a0a0" stroke-width="1"/>
<rect x="591.5" y="269.4" width="6.2" height="6.2" fill="#fff" fill-opacity="0.55" stroke="#a0a0a0" stroke-width="1"/>
<rect x="615.8000000000001" y="270.59999999999997" width="6.2" height="6.2" fill="#fff" fill-opacity="0.55" stroke="#a0a0a0" stroke-width="1"/>
<rect x="640.1" y="271.59999999999997" width="6.2" height="6.2" fill="#fff" fill-opacity="0.55" stroke="#a0a0a0" stroke-width="1"/>
<polyline points="521.7,189.5 546.0,188.6 570.3000000000001,191.6 594.6,189.2 618.9000000000001,186.8 643.2,188.0" fill="none" stroke="#222" stroke-width="1.1"/>
<circle cx="521.7" cy="189.5" r="4.4" fill="#e07e86" stroke="#111" stroke-width="1.1"/>
<circle cx="546.0" cy="188.6" r="4.4" fill="#e07e86" stroke="#111" stroke-width="1.1"/>
<circle cx="570.3000000000001" cy="191.6" r="4.4" fill="#e07e86" stroke="#111" stroke-width="1.1"/>
<circle cx="594.6" cy="189.2" r="4.4" fill="#e07e86" stroke="#111" stroke-width="1.1"/>
<circle cx="618.9000000000001" cy="186.8" r="4.4" fill="#e07e86" stroke="#111" stroke-width="1.1"/>
<circle cx="643.2" cy="188.0" r="4.4" fill="#e07e86" stroke="#111" stroke-width="1.1"/>
<rect x="509.7" y="180.2" width="145.3" height="98.10000000000002" fill="none" stroke="#1a1a1a" stroke-width="1.2"/>
<line x1="509.7" y1="278.3" x2="512.7" y2="278.3" stroke="#1a1a1a" stroke-width="1" />
<text x="506" y="282.2" font-size="11" text-anchor="end" fill="#1a1a1a" color="#1a1a1a" font-weight="normal" >0</text>
<line x1="509.7" y1="259.7" x2="512.7" y2="259.7" stroke="#1a1a1a" stroke-width="1" />
<text x="506" y="263.59999999999997" font-size="11" text-anchor="end" fill="#1a1a1a" color="#1a1a1a" font-weight="normal" >20</text>
<line x1="509.7" y1="241.10000000000002" x2="512.7" y2="241.10000000000002" stroke="#1a1a1a" stroke-width="1" />
<text x="506" y="245.00000000000003" font-size="11" text-anchor="end" fill="#1a1a1a" color="#1a1a1a" font-weight="normal" >40</text>
<line x1="509.7" y1="222.5" x2="512.7" y2="222.5" stroke="#1a1a1a" stroke-width="1" />
<text x="506" y="226.4" font-size="11" text-anchor="end" fill="#1a1a1a" color="#1a1a1a" font-weight="normal" >60</text>
<line x1="509.7" y1="203.9" x2="512.7" y2="203.9" stroke="#1a1a1a" stroke-width="1" />
<text x="506" y="207.8" font-size="11" text-anchor="end" fill="#1a1a1a" color="#1a1a1a" font-weight="normal" >80</text>
<line x1="509.7" y1="185.3" x2="512.7" y2="185.3" stroke="#1a1a1a" stroke-width="1" />
<text x="506" y="189.20000000000002" font-size="11" text-anchor="end" fill="#1a1a1a" color="#1a1a1a" font-weight="normal" >100</text>
<line x1="655" y1="278.3" x2="652" y2="278.3" stroke="#1a1a1a" stroke-width="1" />
<text x="658.2" y="281.5" font-size="9" text-anchor="start" fill="#1a1a1a" color="#1a1a1a" font-weight="normal" >0</text>
<line x1="655" y1="258.8" x2="652" y2="258.8" stroke="#1a1a1a" stroke-width="1" />
<text x="658.2" y="262.0" font-size="9" text-anchor="start" fill="#1a1a1a" color="#1a1a1a" font-weight="normal" >0.2</text>
<line x1="655" y1="239.3" x2="652" y2="239.3" stroke="#1a1a1a" stroke-width="1" />
<text x="658.2" y="242.5" font-size="9" text-anchor="start" fill="#1a1a1a" color="#1a1a1a" font-weight="normal" >0.4</text>
<line x1="655" y1="219.8" x2="652" y2="219.8" stroke="#1a1a1a" stroke-width="1" />
<text x="658.2" y="223.0" font-size="9" text-anchor="start" fill="#1a1a1a" color="#1a1a1a" font-weight="normal" >0.6</text>
<line x1="655" y1="200.3" x2="652" y2="200.3" stroke="#1a1a1a" stroke-width="1" />
<text x="658.2" y="203.5" font-size="9" text-anchor="start" fill="#1a1a1a" color="#1a1a1a" font-weight="normal" >0.8</text>
<line x1="655" y1="180.8" x2="652" y2="180.8" stroke="#1a1a1a" stroke-width="1" />
<text x="658.2" y="184.0" font-size="9" text-anchor="start" fill="#1a1a1a" color="#1a1a1a" font-weight="normal" >1.0</text>
<line x1="521.7" y1="278.3" x2="521.7" y2="275.8" stroke="#1a1a1a" stroke-width="1" />
<text x="521.7" y="289" font-size="11" text-anchor="middle" fill="#1a1a1a" color="#1a1a1a" font-weight="normal" >1</text>
<line x1="546.0" y1="278.3" x2="546.0" y2="275.8" stroke="#1a1a1a" stroke-width="1" />
<text x="546.0" y="289" font-size="11" text-anchor="middle" fill="#1a1a1a" color="#1a1a1a" font-weight="normal" >2</text>
<line x1="570.3000000000001" y1="278.3" x2="570.3000000000001" y2="275.8" stroke="#1a1a1a" stroke-width="1" />
<text x="570.3000000000001" y="289" font-size="11" text-anchor="middle" fill="#1a1a1a" color="#1a1a1a" font-weight="normal" >3</text>
<line x1="594.6" y1="278.3" x2="594.6" y2="275.8" stroke="#1a1a1a" stroke-width="1" />
<text x="594.6" y="289" font-size="11" text-anchor="middle" fill="#1a1a1a" color="#1a1a1a" font-weight="normal" >4</text>
<line x1="618.9000000000001" y1="278.3" x2="618.9000000000001" y2="275.8" stroke="#1a1a1a" stroke-width="1" />
<text x="618.9000000000001" y="289" font-size="11" text-anchor="middle" fill="#1a1a1a" color="#1a1a1a" font-weight="normal" >5</text>
<line x1="643.2" y1="278.3" x2="643.2" y2="275.8" stroke="#1a1a1a" stroke-width="1" />
<text x="643.2" y="289" font-size="11" text-anchor="middle" fill="#1a1a1a" color="#1a1a1a" font-weight="normal" >6</text>
<text x="495.5" y="175.3" font-size="12" text-anchor="start" fill="#000" color="#000" font-weight="bold" >e</text>
<text x="517" y="206.9" font-size="8.85" text-anchor="start" fill="#1a1a1a" color="#1a1a1a" font-weight="normal" >90% NO<tspan font-size="6.8" baseline-shift="-2.38">3</tspan><tspan font-size="6.8" baseline-shift="4.08">−</tspan> Removal</text>
<text x="589.7" y="268" font-size="9.3" text-anchor="start" fill="#1a1a1a" color="#1a1a1a" font-weight="normal" >0.05% Sn Loss</text>
<text x="582.5" y="299.3" font-size="11" text-anchor="middle" fill="#1a1a1a" color="#1a1a1a" font-weight="normal" >Cycles</text>
<text x="0" y="0" font-size="10.46" text-anchor="middle" fill="#1a1a1a" color="#1a1a1a" transform="translate(484.7 236.7) rotate(-90)">NO<tspan font-size="7.5" baseline-shift="-2.62">3</tspan><tspan font-size="7.5" baseline-shift="4.50">−</tspan> Removal Efficiency (%)</text>
<text x="0" y="0" font-size="10.6" text-anchor="middle" fill="#1a1a1a" color="#1a1a1a" transform="translate(682.6 227.7) rotate(-90)">Loss of Tin (%)</text>
<path d="M509.40 371.80 C510.10 371.93 512.30 372.68 513.60 372.60 C514.90 372.52 515.98 371.52 517.20 371.30 C518.42 371.08 519.67 371.70 520.90 371.30 C522.13 370.90 523.38 369.50 524.60 368.90 C525.82 368.30 526.68 369.22 528.20 367.70 C529.72 366.18 532.08 361.62 533.70 359.80 C535.32 357.98 536.48 358.52 537.90 356.80 C539.32 355.08 541.07 352.57 542.20 349.50 C543.33 346.43 543.83 341.27 544.70 338.40 C545.57 335.53 546.48 332.72 547.40 332.30 C548.32 331.88 549.32 333.07 550.20 335.90 C551.08 338.73 551.75 343.80 552.70 349.30 C553.65 354.80 554.88 366.53 555.90 368.90 C556.92 371.27 557.83 364.12 558.80 363.50 C559.77 362.88 560.68 364.10 561.70 365.20 C562.72 366.30 563.83 369.68 564.90 370.10 C565.97 370.52 567.08 367.28 568.10 367.70 C569.12 368.12 569.90 372.80 571.00 372.60 C572.10 372.40 573.47 367.52 574.70 366.50 C575.93 365.48 577.18 366.43 578.40 366.50 C579.62 366.57 580.87 367.12 582.00 366.90 C583.13 366.68 584.18 365.07 585.20 365.20 C586.22 365.33 586.88 368.72 588.10 367.70 C589.32 366.68 591.07 360.12 592.50 359.10 C593.93 358.08 595.18 359.97 596.70 361.60 C598.22 363.23 600.18 366.92 601.60 368.90 C603.02 370.88 603.87 373.22 605.20 373.50 C606.53 373.78 608.38 370.60 609.60 370.60 C610.82 370.60 611.20 373.98 612.50 373.50 C613.80 373.02 615.23 367.70 617.40 367.70 C619.57 367.70 622.95 372.78 625.50 373.50 C628.05 374.22 629.43 372.73 632.70 372.00 C635.97 371.27 641.35 369.00 645.10 369.10 C648.85 369.20 653.52 372.02 655.20 372.60" fill="none" stroke="#d9676b" stroke-width="1.3"/>
<path d="M509.40 414.10 C510.10 414.32 512.30 415.40 513.60 415.40 C514.90 415.40 515.98 414.60 517.20 414.10 C518.42 413.60 519.67 412.48 520.90 412.40 C522.13 412.32 523.38 414.53 524.60 413.60 C525.82 412.67 526.78 408.95 528.20 406.80 C529.62 404.65 531.47 402.53 533.10 400.70 C534.73 398.87 536.57 398.25 538.00 395.80 C539.43 393.35 540.48 389.67 541.70 386.00 C542.92 382.33 544.28 376.25 545.30 373.80 C546.32 371.35 546.85 370.68 547.80 371.30 C548.75 371.92 549.98 373.42 551.00 377.50 C552.02 381.58 552.80 389.57 553.90 395.80 C555.00 402.03 556.58 413.27 557.60 414.90 C558.62 416.53 559.07 407.77 560.00 405.60 C560.93 403.43 562.18 401.90 563.20 401.90 C564.22 401.90 565.12 404.17 566.10 405.60 C567.08 407.03 567.87 410.22 569.10 410.50 C570.33 410.78 571.95 407.92 573.50 407.30 C575.05 406.68 576.85 406.68 578.40 406.80 C579.95 406.92 581.47 406.98 582.80 408.00 C584.13 409.02 584.90 413.22 586.40 412.90 C587.90 412.58 589.88 407.12 591.80 406.10 C593.72 405.08 595.90 406.22 597.90 406.80 C599.90 407.38 601.72 408.07 603.80 409.60 C605.88 411.13 608.23 415.62 610.40 416.00 C612.57 416.38 614.53 412.25 616.80 411.90 C619.07 411.55 621.35 413.18 624.00 413.90 C626.65 414.62 629.18 416.43 632.70 416.20 C636.22 415.97 641.35 412.73 645.10 412.50 C648.85 412.27 653.52 414.42 655.20 414.80" fill="none" stroke="#7ba6d8" stroke-width="1.3"/>
<line x1="571.8" y1="333" x2="595.5" y2="333" stroke="#d9676b" stroke-width="1.3" />
<line x1="571.8" y1="346" x2="595.5" y2="346" stroke="#7ba6d8" stroke-width="1.3" />
<text x="598.6" y="336.8" font-size="10.5" text-anchor="start" fill="#1a1a1a" color="#1a1a1a" font-weight="normal" >Before Use</text>
<text x="598.6" y="349.8" font-size="10.5" text-anchor="start" fill="#1a1a1a" color="#1a1a1a" font-weight="normal" >After Use</text>
<rect x="509.4" y="322.4" width="145.80000000000007" height="97.40000000000003" fill="none" stroke="#1a1a1a" stroke-width="1.2"/>
<line x1="509.4" y1="419.8" x2="509.4" y2="416.8" stroke="#1a1a1a" stroke-width="1" />
<text x="509.4" y="432.3" font-size="11" text-anchor="middle" fill="#1a1a1a" color="#1a1a1a" font-weight="normal" >0</text>
<line x1="521.55" y1="419.8" x2="521.55" y2="418.0" stroke="#1a1a1a" stroke-width="1" />
<line x1="533.6999999999999" y1="419.8" x2="533.6999999999999" y2="416.8" stroke="#1a1a1a" stroke-width="1" />
<text x="533.6999999999999" y="432.3" font-size="11" text-anchor="middle" fill="#1a1a1a" color="#1a1a1a" font-weight="normal" >1</text>
<line x1="545.85" y1="419.8" x2="545.85" y2="418.0" stroke="#1a1a1a" stroke-width="1" />
<line x1="558.0" y1="419.8" x2="558.0" y2="416.8" stroke="#1a1a1a" stroke-width="1" />
<text x="558.0" y="432.3" font-size="11" text-anchor="middle" fill="#1a1a1a" color="#1a1a1a" font-weight="normal" >2</text>
<line x1="570.15" y1="419.8" x2="570.15" y2="418.0" stroke="#1a1a1a" stroke-width="1" />
<line x1="582.3" y1="419.8" x2="582.3" y2="416.8" stroke="#1a1a1a" stroke-width="1" />
<text x="582.3" y="432.3" font-size="11" text-anchor="middle" fill="#1a1a1a" color="#1a1a1a" font-weight="normal" >3</text>
<line x1="594.4499999999999" y1="419.8" x2="594.4499999999999" y2="418.0" stroke="#1a1a1a" stroke-width="1" />
<line x1="606.6" y1="419.8" x2="606.6" y2="416.8" stroke="#1a1a1a" stroke-width="1" />
<text x="606.6" y="432.3" font-size="11" text-anchor="middle" fill="#1a1a1a" color="#1a1a1a" font-weight="normal" >4</text>
<line x1="618.75" y1="419.8" x2="618.75" y2="418.0" stroke="#1a1a1a" stroke-width="1" />
<line x1="630.9" y1="419.8" x2="630.9" y2="416.8" stroke="#1a1a1a" stroke-width="1" />
<text x="630.9" y="432.3" font-size="11" text-anchor="middle" fill="#1a1a1a" color="#1a1a1a" font-weight="normal" >5</text>
<line x1="643.05" y1="419.8" x2="643.05" y2="418.0" stroke="#1a1a1a" stroke-width="1" />
<line x1="655.2" y1="419.8" x2="655.2" y2="416.8" stroke="#1a1a1a" stroke-width="1" />
<text x="655.2" y="432.3" font-size="11" text-anchor="middle" fill="#1a1a1a" color="#1a1a1a" font-weight="normal" >6</text>
<text x="497.5" y="320" font-size="12" text-anchor="start" fill="#000" color="#000" font-weight="bold" >f</text>
<text x="582.5" y="447.3" font-size="11.05" text-anchor="middle" fill="#1a1a1a" color="#1a1a1a" font-weight="normal" >Radial Distance (Å)</text>
<text x="0" y="0" font-size="10.93" text-anchor="middle" fill="#1a1a1a" color="#1a1a1a" transform="translate(502.5 372.7) rotate(-90)">Intensity (arb. units)</text>
<path d="M293.30 331.60 C296.52 332.55 305.63 335.41 312.62 337.32 C319.60 339.23 327.68 341.35 335.22 343.04 C342.75 344.73 350.25 346.12 357.82 347.44 C365.38 348.76 373.02 350.04 380.60 350.96 C388.18 351.88 395.74 352.51 403.31 352.98 C410.87 353.45 420.01 353.63 425.98 353.78 C431.94 353.92 436.91 353.85 439.10 353.86" fill="none" stroke="#6e6e6e" stroke-width="1.1"/>
<path d="M293.30 331.60 C294.62 333.11 297.99 337.07 301.21 340.66 C304.43 344.26 308.83 349.55 312.62 353.16 C316.40 356.77 320.15 359.47 323.92 362.31 C327.68 365.16 331.45 367.61 335.22 370.23 C338.98 372.86 342.75 375.61 346.52 378.06 C350.28 380.51 354.02 382.92 357.82 384.93 C361.61 386.94 365.50 388.73 369.30 390.12 C373.10 391.51 376.83 392.33 380.60 393.29 C384.36 394.24 388.11 395.08 391.90 395.84 C395.68 396.60 399.51 397.31 403.31 397.86 C407.10 398.42 410.90 398.83 414.68 399.18 C418.46 399.54 421.91 399.83 425.98 399.98 C430.05 400.12 436.91 400.05 439.10 400.06" fill="none" stroke="#e0575c" stroke-width="1.2"/>
<line x1="300.2" y1="396.4" x2="322.9" y2="396.4" stroke="#6e6e6e" stroke-width="1.1" />
<line x1="300.2" y1="408.4" x2="322.9" y2="408.4" stroke="#e0575c" stroke-width="1.2" />
<text x="326.6" y="400" font-size="10.5" text-anchor="start" fill="#1a1a1a" color="#1a1a1a" font-weight="normal" >Flow-by</text>
<text x="326.6" y="411.8" font-size="10.5" text-anchor="start" fill="#1a1a1a" color="#1a1a1a" font-weight="normal" >Flow-through</text>
<rect x="293.3" y="322.4" width="145.8" height="97.20000000000005" fill="none" stroke="#1a1a1a" stroke-width="1.2"/>
<line x1="293.3" y1="419.6" x2="296.3" y2="419.6" stroke="#1a1a1a" stroke-width="1" />
<text x="290.3" y="423.5" font-size="11" text-anchor="end" fill="#1a1a1a" color="#1a1a1a" font-weight="normal" >0</text>
<line x1="293.3" y1="410.8" x2="295.1" y2="410.8" stroke="#1a1a1a" stroke-width="1" />
<line x1="293.3" y1="402.0" x2="296.3" y2="402.0" stroke="#1a1a1a" stroke-width="1" />
<text x="290.3" y="405.9" font-size="11" text-anchor="end" fill="#1a1a1a" color="#1a1a1a" font-weight="normal" >0.2</text>
<line x1="293.3" y1="393.20000000000005" x2="295.1" y2="393.20000000000005" stroke="#1a1a1a" stroke-width="1" />
<line x1="293.3" y1="384.40000000000003" x2="296.3" y2="384.40000000000003" stroke="#1a1a1a" stroke-width="1" />
<text x="290.3" y="388.3" font-size="11" text-anchor="end" fill="#1a1a1a" color="#1a1a1a" font-weight="normal" >0.4</text>
<line x1="293.3" y1="375.6" x2="295.1" y2="375.6" stroke="#1a1a1a" stroke-width="1" />
<line x1="293.3" y1="366.8" x2="296.3" y2="366.8" stroke="#1a1a1a" stroke-width="1" />
<text x="290.3" y="370.7" font-size="11" text-anchor="end" fill="#1a1a1a" color="#1a1a1a" font-weight="normal" >0.6</text>
<line x1="293.3" y1="358.0" x2="295.1" y2="358.0" stroke="#1a1a1a" stroke-width="1" />
<line x1="293.3" y1="349.20000000000005" x2="296.3" y2="349.20000000000005" stroke="#1a1a1a" stroke-width="1" />
<text x="290.3" y="353.1" font-size="11" text-anchor="end" fill="#1a1a1a" color="#1a1a1a" font-weight="normal" >0.8</text>
<line x1="293.3" y1="340.40000000000003" x2="295.1" y2="340.40000000000003" stroke="#1a1a1a" stroke-width="1" />
<line x1="293.3" y1="331.6" x2="296.3" y2="331.6" stroke="#1a1a1a" stroke-width="1" />
<text x="290.3" y="335.5" font-size="11" text-anchor="end" fill="#1a1a1a" color="#1a1a1a" font-weight="normal" >1.0</text>
<line x1="293.3" y1="419.6" x2="293.3" y2="416.6" stroke="#1a1a1a" stroke-width="1" />
<text x="293.3" y="431.5" font-size="11" text-anchor="middle" fill="#1a1a1a" color="#1a1a1a" font-weight="normal" >−200</text>
<line x1="311.52500000000003" y1="419.6" x2="311.52500000000003" y2="417.8" stroke="#1a1a1a" stroke-width="1" />
<line x1="329.75" y1="419.6" x2="329.75" y2="416.6" stroke="#1a1a1a" stroke-width="1" />
<text x="329.75" y="431.5" font-size="11" text-anchor="middle" fill="#1a1a1a" color="#1a1a1a" font-weight="normal" >−100</text>
<line x1="347.975" y1="419.6" x2="347.975" y2="417.8" stroke="#1a1a1a" stroke-width="1" />
<line x1="366.20000000000005" y1="419.6" x2="366.20000000000005" y2="416.6" stroke="#1a1a1a" stroke-width="1" />
<text x="366.20000000000005" y="431.5" font-size="11" text-anchor="middle" fill="#1a1a1a" color="#1a1a1a" font-weight="normal" >0</text>
<line x1="384.425" y1="419.6" x2="384.425" y2="417.8" stroke="#1a1a1a" stroke-width="1" />
<line x1="402.65000000000003" y1="419.6" x2="402.65000000000003" y2="416.6" stroke="#1a1a1a" stroke-width="1" />
<text x="402.65000000000003" y="431.5" font-size="11" text-anchor="middle" fill="#1a1a1a" color="#1a1a1a" font-weight="normal" >100</text>
<line x1="420.875" y1="419.6" x2="420.875" y2="417.8" stroke="#1a1a1a" stroke-width="1" />
<line x1="439.1" y1="419.6" x2="439.1" y2="416.6" stroke="#1a1a1a" stroke-width="1" />
<text x="439.1" y="431.5" font-size="11" text-anchor="middle" fill="#1a1a1a" color="#1a1a1a" font-weight="normal" >200</text>
<text x="275" y="319" font-size="12" text-anchor="start" fill="#000" color="#000" font-weight="bold" >b</text>
<text x="282" y="322" font-size="8" text-anchor="start" fill="#000" color="#000" font-weight="bold" >3</text>
<text x="366" y="445.5" font-size="11.2" text-anchor="middle" fill="#1a1a1a" color="#1a1a1a" font-weight="normal" >Distance (nm)</text>
<text x="0" y="0" font-size="11.14" text-anchor="middle" fill="#1a1a1a" color="#1a1a1a" transform="translate(268.5 371.3) rotate(-90)">Normalized Conc.</text>
<line x1="289.00" y1="187.30" x2="289.00" y2="281.30" stroke="#d2d2d2" stroke-width="0.7" />
<line x1="301.45" y1="181.09" x2="301.45" y2="275.09" stroke="#d2d2d2" stroke-width="0.7" />
<line x1="313.90" y1="174.87" x2="313.90" y2="268.87" stroke="#d2d2d2" stroke-width="0.7" />
<line x1="326.35" y1="168.66" x2="326.35" y2="262.66" stroke="#d2d2d2" stroke-width="0.7" />
<line x1="338.80" y1="162.44" x2="338.80" y2="256.44" stroke="#d2d2d2" stroke-width="0.7" />
<line x1="344.50" y1="159.60" x2="344.50" y2="253.60" stroke="#d2d2d2" stroke-width="0.7" />
<line x1="289.00" y1="187.30" x2="344.50" y2="159.60" stroke="#d2d2d2" stroke-width="0.7" />
<line x1="289.00" y1="210.80" x2="344.50" y2="183.10" stroke="#d2d2d2" stroke-width="0.7" />
<line x1="289.00" y1="234.30" x2="344.50" y2="206.60" stroke="#d2d2d2" stroke-width="0.7" />
<line x1="289.00" y1="257.80" x2="344.50" y2="230.10" stroke="#d2d2d2" stroke-width="0.7" />
<line x1="289.00" y1="281.30" x2="344.50" y2="253.60" stroke="#d2d2d2" stroke-width="0.7" />
<line x1="344.50" y1="159.60" x2="344.50" y2="253.60" stroke="#d2d2d2" stroke-width="0.7" />
<line x1="365.95" y1="163.55" x2="365.95" y2="257.55" stroke="#d2d2d2" stroke-width="0.7" />
<line x1="387.40" y1="167.50" x2="387.40" y2="261.50" stroke="#d2d2d2" stroke-width="0.7" />
<line x1="408.85" y1="171.45" x2="408.85" y2="265.45" stroke="#d2d2d2" stroke-width="0.7" />
<line x1="430.30" y1="175.40" x2="430.30" y2="269.40" stroke="#d2d2d2" stroke-width="0.7" />
<line x1="344.50" y1="159.60" x2="430.30" y2="175.40" stroke="#d2d2d2" stroke-width="0.7" />
<line x1="344.50" y1="183.10" x2="430.30" y2="198.90" stroke="#d2d2d2" stroke-width="0.7" />
<line x1="344.50" y1="206.60" x2="430.30" y2="222.40" stroke="#d2d2d2" stroke-width="0.7" />
<line x1="344.50" y1="230.10" x2="430.30" y2="245.90" stroke="#d2d2d2" stroke-width="0.7" />
<line x1="344.50" y1="253.60" x2="430.30" y2="269.40" stroke="#d2d2d2" stroke-width="0.7" />
<line x1="289.00" y1="281.30" x2="344.50" y2="253.60" stroke="#d2d2d2" stroke-width="0.7" />
<line x1="310.45" y1="285.25" x2="365.95" y2="257.55" stroke="#d2d2d2" stroke-width="0.7" />
<line x1="331.90" y1="289.20" x2="387.40" y2="261.50" stroke="#d2d2d2" stroke-width="0.7" />
<line x1="353.35" y1="293.15" x2="408.85" y2="265.45" stroke="#d2d2d2" stroke-width="0.7" />
<line x1="374.80" y1="297.10" x2="430.30" y2="269.40" stroke="#d2d2d2" stroke-width="0.7" />
<line x1="289.00" y1="281.30" x2="374.80" y2="297.10" stroke="#d2d2d2" stroke-width="0.7" />
<line x1="301.45" y1="275.09" x2="387.25" y2="290.89" stroke="#d2d2d2" stroke-width="0.7" />
<line x1="313.90" y1="268.87" x2="399.70" y2="284.67" stroke="#d2d2d2" stroke-width="0.7" />
<line x1="326.35" y1="262.66" x2="412.15" y2="278.46" stroke="#d2d2d2" stroke-width="0.7" />
<line x1="338.80" y1="256.44" x2="424.60" y2="272.24" stroke="#d2d2d2" stroke-width="0.7" />
<line x1="344.50" y1="253.60" x2="430.30" y2="269.40" stroke="#d2d2d2" stroke-width="0.7" />
<polygon points="292.70,282.50 378.40,298.50 427.30,271.70 341.60,255.70" fill="#8e8e8e" />
<polygon points="317.15,222.10 402.85,238.10 427.30,224.70 341.60,208.70" fill="url(#b2h)" />
<polyline points="320.82,220.09 325.10,220.89 329.39,221.69 333.67,222.49 337.96,223.29 342.24,224.09 346.53,224.89 350.81,225.69 355.10,226.49 359.38,227.29 363.67,228.09 367.95,228.89 372.24,229.69 376.52,230.49 380.81,231.29 385.09,232.09 389.38,232.89 393.66,233.69 397.95,234.49 402.23,235.29 406.52,236.09" fill="none" stroke="#2a0a0a" stroke-width="0.42"/>
<circle cx="342.24" cy="224.09" r="0.85" fill="#000"/>
<circle cx="363.67" cy="228.09" r="0.85" fill="#000"/>
<circle cx="385.09" cy="232.09" r="0.85" fill="#000"/>
<circle cx="406.52" cy="236.09" r="0.85" fill="#000"/>
<polyline points="324.48,218.08 328.77,218.88 333.06,219.68 337.34,220.48 341.62,221.28 345.91,222.08 350.19,222.88 354.48,223.68 358.76,224.48 363.05,225.28 367.33,226.08 371.62,226.88 375.90,227.68 380.19,228.48 384.47,229.28 388.76,230.08 393.04,230.88 397.33,231.68 401.61,232.48 405.90,233.28 410.19,234.08" fill="none" stroke="#2a0a0a" stroke-width="0.42"/>
<circle cx="345.91" cy="222.08" r="0.85" fill="#000"/>
<circle cx="367.33" cy="226.08" r="0.85" fill="#000"/>
<circle cx="388.76" cy="230.08" r="0.85" fill="#000"/>
<circle cx="410.19" cy="234.08" r="0.85" fill="#000"/>
<polyline points="328.15,216.07 332.44,216.87 336.72,217.67 341.01,218.47 345.29,219.27 349.58,220.07 353.86,220.87 358.15,221.67 362.43,222.47 366.72,223.27 371.00,224.07 375.29,224.87 379.57,225.67 383.86,226.47 388.14,227.27 392.43,228.07 396.71,228.87 401.00,229.67 405.28,230.47 409.57,231.27 413.85,232.07" fill="none" stroke="#2a0a0a" stroke-width="0.42"/>
<circle cx="349.58" cy="220.07" r="0.85" fill="#000"/>
<circle cx="371.00" cy="224.07" r="0.85" fill="#000"/>
<circle cx="392.43" cy="228.07" r="0.85" fill="#000"/>
<circle cx="413.85" cy="232.07" r="0.85" fill="#000"/>
<polyline points="331.82,214.06 336.11,214.86 340.39,215.66 344.68,216.46 348.96,217.26 353.25,218.06 357.53,218.86 361.81,219.66 366.10,220.46 370.38,221.26 374.67,222.06 378.96,222.86 383.24,223.66 387.53,224.46 391.81,225.26 396.10,226.06 400.38,226.86 404.67,227.66 408.95,228.46 413.24,229.26 417.52,230.06" fill="none" stroke="#2a0a0a" stroke-width="0.42"/>
<circle cx="353.25" cy="218.06" r="0.85" fill="#000"/>
<circle cx="374.67" cy="222.06" r="0.85" fill="#000"/>
<circle cx="396.10" cy="226.06" r="0.85" fill="#000"/>
<circle cx="417.52" cy="230.06" r="0.85" fill="#000"/>
<polyline points="335.49,212.05 339.77,212.85 344.06,213.65 348.34,214.45 352.63,215.25 356.91,216.05 361.20,216.85 365.48,217.65 369.77,218.45 374.05,219.25 378.34,220.05 382.62,220.85 386.91,221.65 391.19,222.45 395.48,223.25 399.76,224.05 404.05,224.85 408.33,225.65 412.62,226.45 416.90,227.25 421.19,228.05" fill="none" stroke="#2a0a0a" stroke-width="0.42"/>
<circle cx="356.91" cy="216.05" r="0.85" fill="#000"/>
<circle cx="378.34" cy="220.05" r="0.85" fill="#000"/>
<circle cx="399.76" cy="224.05" r="0.85" fill="#000"/>
<circle cx="421.19" cy="228.05" r="0.85" fill="#000"/>
<polyline points="339.15,210.04 343.44,210.84 347.73,211.64 352.01,212.44 356.30,213.24 360.58,214.04 364.87,214.84 369.15,215.64 373.44,216.44 377.72,217.24 382.00,218.04 386.29,218.84 390.57,219.64 394.86,220.44 399.14,221.24 403.43,222.04 407.71,222.84 412.00,223.64 416.28,224.44 420.57,225.24 424.86,226.04" fill="none" stroke="#2a0a0a" stroke-width="0.42"/>
<circle cx="360.58" cy="214.04" r="0.85" fill="#000"/>
<circle cx="382.00" cy="218.04" r="0.85" fill="#000"/>
<circle cx="403.43" cy="222.04" r="0.85" fill="#000"/>
<circle cx="424.86" cy="226.04" r="0.85" fill="#000"/>
<polygon points="317.15,175.10 402.85,191.10 402.85,238.10 317.15,222.10" fill="url(#b2vt)" />
<polygon points="317.15,222.10 402.85,238.10 402.85,285.10 317.15,269.10" fill="url(#b2vb)" />
<g>
<polyline points="317.15,178.39 321.44,179.19 325.72,179.99 330.00,180.79 334.29,181.59 338.57,182.39 342.86,183.19 347.14,183.99 351.43,184.79 355.71,185.59 360.00,186.39 364.29,187.19 368.57,187.99 372.86,188.79 377.14,189.59 381.43,190.39 385.71,191.19 390.00,191.99 394.28,192.79 398.56,193.59 402.85,194.39" fill="none" stroke="#222" stroke-width="0.42"/>
<circle cx="338.57" cy="182.39" r="0.9" fill="#000"/>
<circle cx="360.00" cy="186.39" r="0.9" fill="#000"/>
<circle cx="381.43" cy="190.39" r="0.9" fill="#000"/>
<circle cx="402.85" cy="194.39" r="0.9" fill="#000"/>
<polyline points="317.15,185.44 321.44,186.24 325.72,187.04 330.00,187.84 334.29,188.64 338.57,189.44 342.86,190.24 347.14,191.04 351.43,191.84 355.71,192.64 360.00,193.44 364.29,194.24 368.57,195.04 372.86,195.84 377.14,196.64 381.43,197.44 385.71,198.24 390.00,199.04 394.28,199.84 398.56,200.64 402.85,201.44" fill="none" stroke="#222" stroke-width="0.42"/>
<circle cx="338.57" cy="189.44" r="0.9" fill="#000"/>
<circle cx="360.00" cy="193.44" r="0.9" fill="#000"/>
<circle cx="381.43" cy="197.44" r="0.9" fill="#000"/>
<circle cx="402.85" cy="201.44" r="0.9" fill="#000"/>
<polyline points="317.15,192.49 321.44,193.29 325.72,194.09 330.00,194.89 334.29,195.69 338.57,196.49 342.86,197.29 347.14,198.09 351.43,198.89 355.71,199.69 360.00,200.49 364.29,201.29 368.57,202.09 372.86,202.89 377.14,203.69 381.43,204.49 385.71,205.29 390.00,206.09 394.28,206.89 398.56,207.69 402.85,208.49" fill="none" stroke="#222" stroke-width="0.42"/>
<circle cx="338.57" cy="196.49" r="0.9" fill="#000"/>
<circle cx="360.00" cy="200.49" r="0.9" fill="#000"/>
<circle cx="381.43" cy="204.49" r="0.9" fill="#000"/>
<circle cx="402.85" cy="208.49" r="0.9" fill="#000"/>
<polyline points="317.15,199.07 321.44,199.87 325.72,200.67 330.00,201.47 334.29,202.27 338.57,203.07 342.86,203.87 347.14,204.67 351.43,205.47 355.71,206.27 360.00,207.07 364.29,207.87 368.57,208.67 372.86,209.47 377.14,210.27 381.43,211.07 385.71,211.87 390.00,212.67 394.28,213.47 398.56,214.27 402.85,215.07" fill="none" stroke="#222" stroke-width="0.42"/>
<circle cx="338.57" cy="203.07" r="0.9" fill="#000"/>
<circle cx="360.00" cy="207.07" r="0.9" fill="#000"/>
<circle cx="381.43" cy="211.07" r="0.9" fill="#000"/>
<circle cx="402.85" cy="215.07" r="0.9" fill="#000"/>
<polyline points="317.15,205.18 321.44,205.98 325.72,206.78 330.00,207.58 334.29,208.38 338.57,209.18 342.86,209.98 347.14,210.78 351.43,211.58 355.71,212.38 360.00,213.18 364.29,213.98 368.57,214.78 372.86,215.58 377.14,216.38 381.43,217.18 385.71,217.98 390.00,218.78 394.28,219.58 398.56,220.38 402.85,221.18" fill="none" stroke="#222" stroke-width="0.42"/>
<circle cx="338.57" cy="209.18" r="0.9" fill="#000"/>
<circle cx="360.00" cy="213.18" r="0.9" fill="#000"/>
<circle cx="381.43" cy="217.18" r="0.9" fill="#000"/>
<circle cx="402.85" cy="221.18" r="0.9" fill="#000"/>
<polyline points="317.15,210.35 321.44,211.15 325.72,211.95 330.00,212.75 334.29,213.55 338.57,214.35 342.86,215.15 347.14,215.95 351.43,216.75 355.71,217.55 360.00,218.35 364.29,219.15 368.57,219.95 372.86,220.75 377.14,221.55 381.43,222.35 385.71,223.15 390.00,223.95 394.28,224.75 398.56,225.55 402.85,226.35" fill="none" stroke="#222" stroke-width="0.42"/>
<circle cx="338.57" cy="214.35" r="0.9" fill="#000"/>
<circle cx="360.00" cy="218.35" r="0.9" fill="#000"/>
<circle cx="381.43" cy="222.35" r="0.9" fill="#000"/>
<circle cx="402.85" cy="226.35" r="0.9" fill="#000"/>
<polyline points="317.15,214.58 321.44,215.38 325.72,216.18 330.00,216.98 334.29,217.78 338.57,218.58 342.86,219.38 347.14,220.18 351.43,220.98 355.71,221.78 360.00,222.58 364.29,223.38 368.57,224.18 372.86,224.98 377.14,225.78 381.43,226.58 385.71,227.38 390.00,228.18 394.28,228.98 398.56,229.78 402.85,230.58" fill="none" stroke="#222" stroke-width="0.42"/>
<circle cx="338.57" cy="218.58" r="0.9" fill="#000"/>
<circle cx="360.00" cy="222.58" r="0.9" fill="#000"/>
<circle cx="381.43" cy="226.58" r="0.9" fill="#000"/>
<circle cx="402.85" cy="230.58" r="0.9" fill="#000"/>
<polyline points="317.15,218.34 321.44,219.14 325.72,219.94 330.00,220.74 334.29,221.54 338.57,222.34 342.86,223.14 347.14,223.94 351.43,224.74 355.71,225.54 360.00,226.34 364.29,227.14 368.57,227.94 372.86,228.74 377.14,229.54 381.43,230.34 385.71,231.14 390.00,231.94 394.28,232.74 398.56,233.54 402.85,234.34" fill="none" stroke="#222" stroke-width="0.42"/>
<circle cx="338.57" cy="222.34" r="0.9" fill="#000"/>
<circle cx="360.00" cy="226.34" r="0.9" fill="#000"/>
<circle cx="381.43" cy="230.34" r="0.9" fill="#000"/>
<circle cx="402.85" cy="234.34" r="0.9" fill="#000"/>
</g>
<g clip-path="url(#clipb2lo)">
<polyline points="317.15,225.86 321.44,226.66 325.72,227.47 330.00,228.28 334.29,229.09 338.57,229.91 342.86,230.73 347.14,231.54 351.43,232.36 355.71,233.19 360.00,234.01 364.29,234.83 368.57,235.66 372.86,236.49 377.14,237.31 381.43,238.14 385.71,238.98 390.00,239.81 394.28,240.64 398.56,241.48 402.85,242.31" fill="none" stroke="#222" stroke-width="0.42"/>
<circle cx="338.57" cy="229.91" r="0.9" fill="#000"/>
<circle cx="360.00" cy="234.01" r="0.9" fill="#000"/>
<circle cx="381.43" cy="238.14" r="0.9" fill="#000"/>
<circle cx="402.85" cy="242.31" r="0.9" fill="#000"/>
<polyline points="317.15,229.62 321.44,230.43 325.72,231.24 330.00,232.06 334.29,232.89 338.57,233.72 342.86,234.55 347.14,235.39 351.43,236.23 355.71,237.07 360.00,237.92 364.29,238.77 368.57,239.62 372.86,240.47 377.14,241.33 381.43,242.19 385.71,243.05 390.00,243.92 394.28,244.78 398.56,245.65 402.85,246.52" fill="none" stroke="#222" stroke-width="0.42"/>
<circle cx="338.57" cy="233.72" r="0.9" fill="#000"/>
<circle cx="360.00" cy="237.92" r="0.9" fill="#000"/>
<circle cx="381.43" cy="242.19" r="0.9" fill="#000"/>
<circle cx="402.85" cy="246.52" r="0.9" fill="#000"/>
<polyline points="317.15,233.85 321.44,234.66 325.72,235.49 330.00,236.32 334.29,237.16 338.57,238.00 342.86,238.86 347.14,239.71 351.43,240.58 355.71,241.44 360.00,242.32 364.29,243.19 368.57,244.07 372.86,244.96 377.14,245.85 381.43,246.74 385.71,247.64 390.00,248.54 394.28,249.44 398.56,250.35 402.85,251.26" fill="none" stroke="#222" stroke-width="0.42"/>
<circle cx="338.57" cy="238.00" r="0.9" fill="#000"/>
<circle cx="360.00" cy="242.32" r="0.9" fill="#000"/>
<circle cx="381.43" cy="246.74" r="0.9" fill="#000"/>
<circle cx="402.85" cy="251.26" r="0.9" fill="#000"/>
<polyline points="317.15,239.02 321.44,239.84 325.72,240.67 330.00,241.52 334.29,242.37 338.57,243.24 342.86,244.12 347.14,245.00 351.43,245.89 355.71,246.79 360.00,247.69 364.29,248.60 368.57,249.52 372.86,250.44 377.14,251.37 381.43,252.30 385.71,253.24 390.00,254.19 394.28,255.14 398.56,256.09 402.85,257.05" fill="none" stroke="#222" stroke-width="0.42"/>
<circle cx="338.57" cy="243.24" r="0.9" fill="#000"/>
<circle cx="360.00" cy="247.69" r="0.9" fill="#000"/>
<circle cx="381.43" cy="252.30" r="0.9" fill="#000"/>
<circle cx="402.85" cy="257.05" r="0.9" fill="#000"/>
<polyline points="317.15,245.13 321.44,245.95 325.72,246.80 330.00,247.66 334.29,248.54 338.57,249.43 342.86,250.33 347.14,251.25 351.43,252.17 355.71,253.10 360.00,254.04 364.29,254.99 368.57,255.95 372.86,256.92 377.14,257.89 381.43,258.87 385.71,259.86 390.00,260.86 394.28,261.86 398.56,262.88 402.85,263.89" fill="none" stroke="#222" stroke-width="0.42"/>
<circle cx="338.57" cy="249.43" r="0.9" fill="#000"/>
<circle cx="360.00" cy="254.04" r="0.9" fill="#000"/>
<circle cx="381.43" cy="258.87" r="0.9" fill="#000"/>
<circle cx="402.85" cy="263.89" r="0.9" fill="#000"/>
<polyline points="317.15,251.71 321.44,252.54 325.72,253.40 330.00,254.28 334.29,255.18 338.57,256.10 342.86,257.03 347.14,257.97 351.43,258.93 355.71,259.90 360.00,260.88 364.29,261.88 368.57,262.88 372.86,263.89 377.14,264.92 381.43,265.95 385.71,267.00 390.00,268.05 394.28,269.11 398.56,270.18 402.85,271.26" fill="none" stroke="#222" stroke-width="0.42"/>
<circle cx="338.57" cy="256.10" r="0.9" fill="#000"/>
<circle cx="360.00" cy="260.88" r="0.9" fill="#000"/>
<circle cx="381.43" cy="265.95" r="0.9" fill="#000"/>
<circle cx="402.85" cy="271.26" r="0.9" fill="#000"/>
<polyline points="317.15,258.76 321.44,259.60 325.72,260.47 330.00,261.37 334.29,262.29 338.57,263.24 342.86,264.20 347.14,265.18 351.43,266.18 355.71,267.19 360.00,268.21 364.29,269.25 368.57,270.30 372.86,271.37 377.14,272.45 381.43,273.54 385.71,274.64 390.00,275.75 394.28,276.88 398.56,278.01 402.85,279.16" fill="none" stroke="#222" stroke-width="0.42"/>
<circle cx="338.57" cy="263.24" r="0.9" fill="#000"/>
<circle cx="360.00" cy="268.21" r="0.9" fill="#000"/>
<circle cx="381.43" cy="273.54" r="0.9" fill="#000"/>
<circle cx="402.85" cy="279.16" r="0.9" fill="#000"/>
<polyline points="317.15,265.81 321.44,266.65 325.72,267.54 330.00,268.46 334.29,269.41 338.57,270.38 342.86,271.37 347.14,272.39 351.43,273.42 355.71,274.47 360.00,275.54 364.29,276.63 368.57,277.73 372.86,278.84 377.14,279.97 381.43,281.12 385.71,282.28 390.00,283.45 394.28,284.64 398.56,285.84 402.85,287.06" fill="none" stroke="#222" stroke-width="0.42"/>
<circle cx="338.57" cy="270.38" r="0.9" fill="#000"/>
<circle cx="360.00" cy="275.54" r="0.9" fill="#000"/>
<circle cx="381.43" cy="281.12" r="0.9" fill="#000"/>
<circle cx="402.85" cy="287.06" r="0.9" fill="#000"/>
</g>
<polygon points="292.70,235.50 378.40,251.50 402.85,238.10 317.15,222.10" fill="url(#b2h)" />
<polyline points="295.14,234.16 299.43,234.96 303.72,235.76 308.00,236.56 312.29,237.36 316.57,238.16 320.86,238.96 325.14,239.76 329.43,240.56 333.71,241.36 338.00,242.16 342.28,242.96 346.56,243.76 350.85,244.56 355.13,245.36 359.42,246.16 363.70,246.96 367.99,247.76 372.27,248.56 376.56,249.36 380.85,250.16" fill="none" stroke="#2a0a0a" stroke-width="0.42"/>
<circle cx="316.57" cy="238.16" r="0.85" fill="#000"/>
<circle cx="338.00" cy="242.16" r="0.85" fill="#000"/>
<circle cx="359.42" cy="246.16" r="0.85" fill="#000"/>
<circle cx="380.85" cy="250.16" r="0.85" fill="#000"/>
<polyline points="298.81,232.15 303.10,232.95 307.38,233.75 311.67,234.55 315.95,235.35 320.24,236.15 324.52,236.95 328.81,237.75 333.09,238.55 337.38,239.35 341.66,240.15 345.95,240.95 350.23,241.75 354.52,242.55 358.80,243.35 363.09,244.15 367.37,244.95 371.66,245.75 375.94,246.55 380.23,247.35 384.51,248.15" fill="none" stroke="#2a0a0a" stroke-width="0.42"/>
<circle cx="320.24" cy="236.15" r="0.85" fill="#000"/>
<circle cx="341.66" cy="240.15" r="0.85" fill="#000"/>
<circle cx="363.09" cy="244.15" r="0.85" fill="#000"/>
<circle cx="384.51" cy="248.15" r="0.85" fill="#000"/>
<polyline points="302.48,230.14 306.76,230.94 311.05,231.74 315.33,232.54 319.62,233.34 323.90,234.14 328.19,234.94 332.47,235.74 336.76,236.54 341.04,237.34 345.33,238.14 349.62,238.94 353.90,239.74 358.19,240.54 362.47,241.34 366.75,242.14 371.04,242.94 375.32,243.74 379.61,244.54 383.89,245.34 388.18,246.14" fill="none" stroke="#2a0a0a" stroke-width="0.42"/>
<circle cx="323.90" cy="234.14" r="0.85" fill="#000"/>
<circle cx="345.33" cy="238.14" r="0.85" fill="#000"/>
<circle cx="366.75" cy="242.14" r="0.85" fill="#000"/>
<circle cx="388.18" cy="246.14" r="0.85" fill="#000"/>
<polyline points="306.15,228.13 310.43,228.93 314.72,229.73 319.00,230.53 323.29,231.33 327.57,232.13 331.86,232.93 336.14,233.73 340.43,234.53 344.71,235.33 349.00,236.13 353.28,236.93 357.57,237.73 361.85,238.53 366.14,239.33 370.42,240.13 374.71,240.93 378.99,241.73 383.28,242.53 387.56,243.33 391.85,244.13" fill="none" stroke="#2a0a0a" stroke-width="0.42"/>
<circle cx="327.57" cy="232.13" r="0.85" fill="#000"/>
<circle cx="349.00" cy="236.13" r="0.85" fill="#000"/>
<circle cx="370.42" cy="240.13" r="0.85" fill="#000"/>
<circle cx="391.85" cy="244.13" r="0.85" fill="#000"/>
<polyline points="309.81,226.12 314.10,226.92 318.39,227.72 322.67,228.52 326.96,229.32 331.24,230.12 335.53,230.92 339.81,231.72 344.10,232.52 348.38,233.32 352.67,234.12 356.95,234.92 361.24,235.72 365.52,236.52 369.81,237.32 374.09,238.12 378.38,238.92 382.66,239.72 386.94,240.52 391.23,241.32 395.52,242.12" fill="none" stroke="#2a0a0a" stroke-width="0.42"/>
<circle cx="331.24" cy="230.12" r="0.85" fill="#000"/>
<circle cx="352.67" cy="234.12" r="0.85" fill="#000"/>
<circle cx="374.09" cy="238.12" r="0.85" fill="#000"/>
<circle cx="395.52" cy="242.12" r="0.85" fill="#000"/>
<polyline points="313.48,224.11 317.77,224.91 322.05,225.71 326.34,226.51 330.62,227.31 334.91,228.11 339.19,228.91 343.48,229.71 347.76,230.51 352.05,231.31 356.33,232.11 360.62,232.91 364.90,233.71 369.19,234.51 373.47,235.31 377.76,236.11 382.04,236.91 386.33,237.71 390.61,238.51 394.90,239.31 399.18,240.11" fill="none" stroke="#2a0a0a" stroke-width="0.42"/>
<circle cx="334.91" cy="228.11" r="0.85" fill="#000"/>
<circle cx="356.33" cy="232.11" r="0.85" fill="#000"/>
<circle cx="377.76" cy="236.11" r="0.85" fill="#000"/>
<circle cx="399.18" cy="240.11" r="0.85" fill="#000"/>
<polyline points="317.15,222.10 321.44,222.90 325.72,223.70 330.00,224.50 334.29,225.30 338.57,226.10 342.86,226.90 347.14,227.70 351.43,228.50 355.71,229.30 360.00,230.10 364.29,230.90 368.57,231.70 372.86,232.50 377.14,233.30 381.43,234.10 385.71,234.90 390.00,235.70 394.28,236.50 398.56,237.30 402.85,238.10" fill="none" stroke="#2a0a0a" stroke-width="0.42"/>
<circle cx="338.57" cy="226.10" r="0.85" fill="#000"/>
<circle cx="360.00" cy="230.10" r="0.85" fill="#000"/>
<circle cx="381.43" cy="234.10" r="0.85" fill="#000"/>
<circle cx="402.85" cy="238.10" r="0.85" fill="#000"/>
<line x1="289.00" y1="34.70" x2="289.00" y2="128.70" stroke="#d2d2d2" stroke-width="0.7" />
<line x1="301.45" y1="28.49" x2="301.45" y2="122.49" stroke="#d2d2d2" stroke-width="0.7" />
<line x1="313.90" y1="22.27" x2="313.90" y2="116.27" stroke="#d2d2d2" stroke-width="0.7" />
<line x1="326.35" y1="16.06" x2="326.35" y2="110.06" stroke="#d2d2d2" stroke-width="0.7" />
<line x1="338.80" y1="9.84" x2="338.80" y2="103.84" stroke="#d2d2d2" stroke-width="0.7" />
<line x1="344.50" y1="7.00" x2="344.50" y2="101.00" stroke="#d2d2d2" stroke-width="0.7" />
<line x1="289.00" y1="34.70" x2="344.50" y2="7.00" stroke="#d2d2d2" stroke-width="0.7" />
<line x1="289.00" y1="58.20" x2="344.50" y2="30.50" stroke="#d2d2d2" stroke-width="0.7" />
<line x1="289.00" y1="81.70" x2="344.50" y2="54.00" stroke="#d2d2d2" stroke-width="0.7" />
<line x1="289.00" y1="105.20" x2="344.50" y2="77.50" stroke="#d2d2d2" stroke-width="0.7" />
<line x1="289.00" y1="128.70" x2="344.50" y2="101.00" stroke="#d2d2d2" stroke-width="0.7" />
<line x1="344.50" y1="7.00" x2="344.50" y2="101.00" stroke="#d2d2d2" stroke-width="0.7" />
<line x1="365.95" y1="10.95" x2="365.95" y2="104.95" stroke="#d2d2d2" stroke-width="0.7" />
<line x1="387.40" y1="14.90" x2="387.40" y2="108.90" stroke="#d2d2d2" stroke-width="0.7" />
<line x1="408.85" y1="18.85" x2="408.85" y2="112.85" stroke="#d2d2d2" stroke-width="0.7" />
<line x1="430.30" y1="22.80" x2="430.30" y2="116.80" stroke="#d2d2d2" stroke-width="0.7" />
<line x1="344.50" y1="7.00" x2="430.30" y2="22.80" stroke="#d2d2d2" stroke-width="0.7" />
<line x1="344.50" y1="30.50" x2="430.30" y2="46.30" stroke="#d2d2d2" stroke-width="0.7" />
<line x1="344.50" y1="54.00" x2="430.30" y2="69.80" stroke="#d2d2d2" stroke-width="0.7" />
<line x1="344.50" y1="77.50" x2="430.30" y2="93.30" stroke="#d2d2d2" stroke-width="0.7" />
<line x1="344.50" y1="101.00" x2="430.30" y2="116.80" stroke="#d2d2d2" stroke-width="0.7" />
<line x1="289.00" y1="128.70" x2="344.50" y2="101.00" stroke="#d2d2d2" stroke-width="0.7" />
<line x1="310.45" y1="132.65" x2="365.95" y2="104.95" stroke="#d2d2d2" stroke-width="0.7" />
<line x1="331.90" y1="136.60" x2="387.40" y2="108.90" stroke="#d2d2d2" stroke-width="0.7" />
<line x1="353.35" y1="140.55" x2="408.85" y2="112.85" stroke="#d2d2d2" stroke-width="0.7" />
<line x1="374.80" y1="144.50" x2="430.30" y2="116.80" stroke="#d2d2d2" stroke-width="0.7" />
<line x1="289.00" y1="128.70" x2="374.80" y2="144.50" stroke="#d2d2d2" stroke-width="0.7" />
<line x1="301.45" y1="122.49" x2="387.25" y2="138.29" stroke="#d2d2d2" stroke-width="0.7" />
<line x1="313.90" y1="116.27" x2="399.70" y2="132.07" stroke="#d2d2d2" stroke-width="0.7" />
<line x1="326.35" y1="110.06" x2="412.15" y2="125.86" stroke="#d2d2d2" stroke-width="0.7" />
<line x1="338.80" y1="103.84" x2="424.60" y2="119.64" stroke="#d2d2d2" stroke-width="0.7" />
<line x1="344.50" y1="101.00" x2="430.30" y2="116.80" stroke="#d2d2d2" stroke-width="0.7" />
<g opacity="0.9"><line x1="326.8" y1="21.5" x2="354.3" y2="22.3" stroke="#a8a8a8" stroke-width="4.2" stroke-linecap="round"/><line x1="326.8" y1="21.5" x2="354.3" y2="22.3" stroke="#cfcfcf" stroke-width="1.89" stroke-linecap="round" opacity="0.8"/></g>
<g opacity="0.9"><line x1="378.8" y1="16.5" x2="383.1" y2="33.1" stroke="#a8a8a8" stroke-width="4.2" stroke-linecap="round"/><line x1="378.8" y1="16.5" x2="383.1" y2="33.1" stroke="#cfcfcf" stroke-width="1.89" stroke-linecap="round" opacity="0.8"/></g>
<g opacity="0.9"><line x1="388.9" y1="23.7" x2="386" y2="34.5" stroke="#a8a8a8" stroke-width="4.2" stroke-linecap="round"/><line x1="388.9" y1="23.7" x2="386" y2="34.5" stroke="#cfcfcf" stroke-width="1.89" stroke-linecap="round" opacity="0.8"/></g>
<g opacity="0.9"><line x1="401.8" y1="28" x2="396" y2="34.5" stroke="#a8a8a8" stroke-width="4.2" stroke-linecap="round"/><line x1="401.8" y1="28" x2="396" y2="34.5" stroke="#cfcfcf" stroke-width="1.89" stroke-linecap="round" opacity="0.8"/></g>
<g opacity="0.9"><line x1="426.4" y1="26.6" x2="403.3" y2="51.8" stroke="#a8a8a8" stroke-width="4.2" stroke-linecap="round"/><line x1="426.4" y1="26.6" x2="403.3" y2="51.8" stroke="#cfcfcf" stroke-width="1.89" stroke-linecap="round" opacity="0.8"/></g>
<g opacity="0.9"><line x1="426.4" y1="30.2" x2="407.6" y2="70.6" stroke="#a8a8a8" stroke-width="4.2" stroke-linecap="round"/><line x1="426.4" y1="30.2" x2="407.6" y2="70.6" stroke="#cfcfcf" stroke-width="1.89" stroke-linecap="round" opacity="0.8"/></g>
<g opacity="0.9"><line x1="418.3" y1="91.7" x2="408.3" y2="126.7" stroke="#a8a8a8" stroke-width="4.2" stroke-linecap="round"/><line x1="418.3" y1="91.7" x2="408.3" y2="126.7" stroke="#cfcfcf" stroke-width="1.89" stroke-linecap="round" opacity="0.8"/></g>
<g opacity="0.9"><line x1="405" y1="103.3" x2="426.7" y2="98.3" stroke="#a8a8a8" stroke-width="4.2" stroke-linecap="round"/><line x1="405" y1="103.3" x2="426.7" y2="98.3" stroke="#cfcfcf" stroke-width="1.89" stroke-linecap="round" opacity="0.8"/></g>
<g opacity="0.9"><line x1="405" y1="105" x2="425" y2="105" stroke="#a8a8a8" stroke-width="4.2" stroke-linecap="round"/><line x1="405" y1="105" x2="425" y2="105" stroke="#cfcfcf" stroke-width="1.89" stroke-linecap="round" opacity="0.8"/></g>
<g opacity="0.9"><line x1="413.4" y1="33" x2="407.6" y2="40.3" stroke="#a8a8a8" stroke-width="4.2" stroke-linecap="round"/><line x1="413.4" y1="33" x2="407.6" y2="40.3" stroke="#cfcfcf" stroke-width="1.89" stroke-linecap="round" opacity="0.8"/></g>
<g opacity="0.9"><line x1="308" y1="28.8" x2="310.3" y2="60.5" stroke="#a8a8a8" stroke-width="4.2" stroke-linecap="round"/><line x1="308" y1="28.8" x2="310.3" y2="60.5" stroke="#cfcfcf" stroke-width="1.89" stroke-linecap="round" opacity="0.8"/></g>
<g opacity="0.9"><line x1="302.3" y1="36" x2="303.8" y2="75" stroke="#a8a8a8" stroke-width="4.2" stroke-linecap="round"/><line x1="302.3" y1="36" x2="303.8" y2="75" stroke="#cfcfcf" stroke-width="1.89" stroke-linecap="round" opacity="0.8"/></g>
<polygon points="317.15,69.50 402.85,85.50 427.30,72.10 341.60,56.10" fill="url(#b1h)" />
<polygon points="317.15,22.50 402.85,38.50 402.85,132.50 317.15,116.50" fill="url(#b1vt)" />
<g clip-path="url(#clipb1v)">
<polyline points="317.15,25.79 320.01,26.15 322.86,26.41 325.72,26.70 328.58,27.16 331.43,27.86 334.29,28.82 337.15,29.99 340.00,31.25 342.86,32.45 345.72,33.43 348.57,34.06 351.43,34.27 354.29,34.08 357.14,33.55 360.00,32.85 362.86,32.15 365.71,31.62 368.57,31.43 371.43,31.64 374.28,32.27 377.14,33.25 380.00,34.45 382.85,35.71 385.71,36.88 388.57,37.84 391.42,38.54 394.28,39.00 397.14,39.29 399.99,39.55 402.85,39.91" fill="none" stroke="#151515" stroke-width="0.36"/>
<circle cx="339.00" cy="30.81" r="0.8" fill="#000"/>
<circle cx="360.00" cy="32.85" r="0.8" fill="#000"/>
<circle cx="382.28" cy="35.46" r="0.8" fill="#000"/>
<circle cx="402.42" cy="39.84" r="0.8" fill="#000"/>
<polyline points="317.15,29.46 320.01,29.76 322.86,30.28 325.72,31.04 328.58,32.03 331.43,33.13 334.29,34.21 337.15,35.11 340.00,35.71 342.86,35.92 345.72,35.75 348.57,35.25 351.43,34.57 354.29,33.88 357.14,33.37 360.00,33.18 362.86,33.42 365.71,34.10 368.57,35.16 371.43,36.47 374.28,37.89 377.14,39.23 380.00,40.37 382.85,41.24 385.71,41.83 388.57,42.20 391.42,42.48 394.28,42.79 397.14,43.28 399.99,44.03 402.85,45.05" fill="none" stroke="#151515" stroke-width="0.36"/>
<circle cx="339.00" cy="35.54" r="0.8" fill="#000"/>
<circle cx="360.00" cy="33.18" r="0.8" fill="#000"/>
<circle cx="382.28" cy="41.09" r="0.8" fill="#000"/>
<circle cx="402.42" cy="44.88" r="0.8" fill="#000"/>
<circle cx="372.00" cy="36.75" r="0.8" fill="#000"/>
<circle cx="392.14" cy="42.55" r="0.8" fill="#000"/>
<polyline points="317.15,33.12 320.01,33.91 322.86,34.85 325.72,35.82 328.58,36.66 331.43,37.25 334.29,37.50 337.15,37.37 340.00,36.94 342.86,36.33 345.72,35.70 348.57,35.23 351.43,35.08 354.29,35.36 357.14,36.10 360.00,37.23 362.86,38.66 365.71,40.20 368.57,41.70 371.43,43.00 374.28,44.00 377.14,44.70 380.00,45.12 382.85,45.39 385.71,45.64 388.57,46.01 391.42,46.59 394.28,47.43 397.14,48.50 399.99,49.71 402.85,50.91" fill="none" stroke="#151515" stroke-width="0.36"/>
<circle cx="339.00" cy="37.12" r="0.8" fill="#000"/>
<circle cx="360.00" cy="37.23" r="0.8" fill="#000"/>
<circle cx="382.28" cy="45.35" r="0.8" fill="#000"/>
<circle cx="402.42" cy="50.74" r="0.8" fill="#000"/>
<polyline points="317.15,37.33 320.01,38.13 322.86,38.73 325.72,39.03 328.58,39.00 331.43,38.68 334.29,38.16 337.15,37.62 340.00,37.23 342.86,37.14 345.72,37.47 348.57,38.26 351.43,39.47 354.29,40.98 357.14,42.64 360.00,44.26 362.86,45.68 365.71,46.79 368.57,47.56 371.43,48.02 374.28,48.25 377.14,48.41 380.00,48.63 382.85,49.03 385.71,49.67 388.57,50.55 391.42,51.59 394.28,52.66 397.14,53.61 399.99,54.31 402.85,54.65" fill="none" stroke="#151515" stroke-width="0.36"/>
<circle cx="339.00" cy="37.34" r="0.8" fill="#000"/>
<circle cx="360.00" cy="44.26" r="0.8" fill="#000"/>
<circle cx="382.28" cy="48.93" r="0.8" fill="#000"/>
<circle cx="402.42" cy="54.62" r="0.8" fill="#000"/>
<circle cx="372.00" cy="48.08" r="0.8" fill="#000"/>
<circle cx="392.14" cy="51.86" r="0.8" fill="#000"/>
<polyline points="317.15,40.58 320.01,40.67 322.86,40.48 325.72,40.10 328.58,39.68 331.43,39.38 334.29,39.37 337.15,39.76 340.00,40.60 342.86,41.86 345.72,43.43 348.57,45.17 351.43,46.87 354.29,48.38 357.14,49.57 360.00,50.38 362.86,50.84 365.71,51.02 368.57,51.07 371.43,51.13 374.28,51.34 377.14,51.78 380.00,52.46 382.85,53.33 385.71,54.27 388.57,55.15 391.42,55.83 394.28,56.19 397.14,56.20 399.99,55.87 402.85,55.32" fill="none" stroke="#151515" stroke-width="0.36"/>
<circle cx="339.00" cy="40.25" r="0.8" fill="#000"/>
<circle cx="360.00" cy="50.38" r="0.8" fill="#000"/>
<circle cx="382.28" cy="53.14" r="0.8" fill="#000"/>
<circle cx="402.42" cy="55.41" r="0.8" fill="#000"/>
<polyline points="317.15,42.17 320.01,41.89 322.86,41.70 325.72,41.77 328.58,42.21 331.43,43.08 334.29,44.37 337.15,45.98 340.00,47.75 342.86,49.51 345.72,51.07 348.57,52.29 351.43,53.12 354.29,53.55 357.14,53.66 360.00,53.59 362.86,53.49 365.71,53.51 368.57,53.75 371.43,54.23 374.28,54.94 377.14,55.78 380.00,56.61 382.85,57.29 385.71,57.70 388.57,57.80 391.42,57.58 394.28,57.14 397.14,56.62 399.99,56.18 402.85,56.01" fill="none" stroke="#151515" stroke-width="0.36"/>
<circle cx="339.00" cy="47.12" r="0.8" fill="#000"/>
<circle cx="360.00" cy="53.59" r="0.8" fill="#000"/>
<circle cx="382.28" cy="57.17" r="0.8" fill="#000"/>
<circle cx="402.42" cy="56.01" r="0.8" fill="#000"/>
<circle cx="372.00" cy="54.36" r="0.8" fill="#000"/>
<circle cx="392.14" cy="57.49" r="0.8" fill="#000"/>
<polyline points="317.15,44.33 320.01,44.81 322.86,45.70 325.72,46.98 328.58,48.58 331.43,50.36 334.29,52.12 337.15,53.69 340.00,54.92 342.86,55.74 345.72,56.13 348.57,56.16 351.43,55.97 354.29,55.71 357.14,55.54 360.00,55.58 362.86,55.90 365.71,56.46 368.57,57.21 371.43,58.01 374.28,58.72 377.14,59.22 380.00,59.44 382.85,59.37 385.71,59.07 388.57,58.68 391.42,58.35 394.28,58.26 397.14,58.53 399.99,59.24 402.85,60.39" fill="none" stroke="#151515" stroke-width="0.36"/>
<circle cx="339.00" cy="54.54" r="0.8" fill="#000"/>
<circle cx="360.00" cy="55.58" r="0.8" fill="#000"/>
<circle cx="382.28" cy="59.40" r="0.8" fill="#000"/>
<circle cx="402.42" cy="60.19" r="0.8" fill="#000"/>
<polyline points="317.15,49.65 320.01,51.21 322.86,52.94 325.72,54.67 328.58,56.22 331.43,57.43 334.29,58.21 337.15,58.54 340.00,58.49 342.86,58.18 345.72,57.78 348.57,57.44 351.43,57.32 354.29,57.47 357.14,57.93 360.00,58.61 362.86,59.40 365.71,60.17 368.57,60.78 371.43,61.15 374.28,61.25 377.14,61.12 380.00,60.88 382.85,60.68 385.71,60.67 388.57,61.00 391.42,61.75 394.28,62.92 397.14,64.45 399.99,66.19 402.85,67.98" fill="none" stroke="#151515" stroke-width="0.36"/>
<circle cx="339.00" cy="58.55" r="0.8" fill="#000"/>
<circle cx="360.00" cy="58.61" r="0.8" fill="#000"/>
<circle cx="382.28" cy="60.71" r="0.8" fill="#000"/>
<circle cx="402.42" cy="67.71" r="0.8" fill="#000"/>
<circle cx="372.00" cy="61.19" r="0.8" fill="#000"/>
<circle cx="392.14" cy="62.00" r="0.8" fill="#000"/>
<polyline points="317.15,57.13 320.01,58.62 322.86,59.78 325.72,60.51 328.58,60.79 331.43,60.66 334.29,60.25 337.15,59.72 340.00,59.24 342.86,58.97 345.72,59.01 348.57,59.37 351.43,60.01 354.29,60.83 357.14,61.68 360.00,62.43 362.86,62.97 365.71,63.26 368.57,63.32 371.43,63.25 374.28,63.17 377.14,63.25 380.00,63.63 382.85,64.39 385.71,65.55 388.57,67.06 391.42,68.80 394.28,70.58 397.14,72.22 399.99,73.57 402.85,74.51" fill="none" stroke="#151515" stroke-width="0.36"/>
<circle cx="339.00" cy="59.39" r="0.8" fill="#000"/>
<circle cx="360.00" cy="62.43" r="0.8" fill="#000"/>
<circle cx="382.28" cy="64.20" r="0.8" fill="#000"/>
<circle cx="402.42" cy="74.40" r="0.8" fill="#000"/>
<polyline points="317.15,62.64 320.01,62.87 322.86,62.67 325.72,62.18 328.58,61.55 331.43,60.97 334.29,60.59 337.15,60.53 340.00,60.83 342.86,61.46 345.72,62.33 348.57,63.28 351.43,64.18 354.29,64.91 357.14,65.41 360.00,65.66 362.86,65.76 365.71,65.81 368.57,65.97 371.43,66.37 374.28,67.12 377.14,68.25 380.00,69.71 382.85,71.39 385.71,73.12 388.57,74.73 391.42,76.05 394.28,76.95 397.14,77.41 399.99,77.45 402.85,77.18" fill="none" stroke="#151515" stroke-width="0.36"/>
<circle cx="339.00" cy="60.69" r="0.8" fill="#000"/>
<circle cx="360.00" cy="65.66" r="0.8" fill="#000"/>
<circle cx="382.28" cy="71.04" r="0.8" fill="#000"/>
<circle cx="402.42" cy="77.23" r="0.8" fill="#000"/>
<circle cx="372.00" cy="66.49" r="0.8" fill="#000"/>
<circle cx="392.14" cy="76.31" r="0.8" fill="#000"/>
<polyline points="317.15,64.00 320.01,63.31 322.86,62.65 325.72,62.20 328.58,62.09 331.43,62.36 334.29,63.01 337.15,63.93 340.00,65.01 342.86,66.07 345.72,67.00 348.57,67.70 351.43,68.15 354.29,68.40 357.14,68.57 360.00,68.79 362.86,69.20 365.71,69.91 368.57,70.96 371.43,72.33 374.28,73.92 377.14,75.57 380.00,77.12 382.85,78.38 385.71,79.23 388.57,79.63 391.42,79.60 394.28,79.24 397.14,78.70 399.99,78.16 402.85,77.79" fill="none" stroke="#151515" stroke-width="0.36"/>
<circle cx="339.00" cy="64.62" r="0.8" fill="#000"/>
<circle cx="360.00" cy="68.79" r="0.8" fill="#000"/>
<circle cx="382.28" cy="78.15" r="0.8" fill="#000"/>
<circle cx="402.42" cy="77.83" r="0.8" fill="#000"/>
<polyline points="317.15,63.39 320.01,63.25 322.86,63.52 325.72,64.20 328.58,65.21 331.43,66.41 334.29,67.64 337.15,68.75 340.00,69.65 342.86,70.29 345.72,70.69 348.57,70.96 351.43,71.22 354.29,71.61 357.14,72.25 360.00,73.19 362.86,74.44 365.71,75.90 368.57,77.44 371.43,78.88 374.28,80.07 377.14,80.87 380.00,81.22 382.85,81.13 385.71,80.70 388.57,80.08 391.42,79.44 394.28,78.96 397.14,78.78 399.99,78.96 402.85,79.50" fill="none" stroke="#151515" stroke-width="0.36"/>
<circle cx="339.00" cy="69.37" r="0.8" fill="#000"/>
<circle cx="360.00" cy="73.19" r="0.8" fill="#000"/>
<circle cx="382.28" cy="81.18" r="0.8" fill="#000"/>
<circle cx="402.42" cy="79.40" r="0.8" fill="#000"/>
<circle cx="372.00" cy="79.15" r="0.8" fill="#000"/>
<circle cx="392.14" cy="79.30" r="0.8" fill="#000"/>
<polyline points="317.15,70.72 320.01,71.81 322.86,73.13 325.72,74.52 328.58,75.81 331.43,76.89 334.29,77.69 337.15,78.23 340.00,78.57 342.86,78.84 345.72,79.19 348.57,79.73 351.43,80.53 354.29,81.62 357.14,82.93 360.00,84.33 362.86,85.66 365.71,86.76 368.57,87.50 371.43,87.81 374.28,87.69 377.14,87.21 380.00,86.54 382.85,85.84 385.71,85.30 388.57,85.06 391.42,85.21 394.28,85.75 397.14,86.62 399.99,87.69 402.85,88.81" fill="none" stroke="#151515" stroke-width="0.36"/>
<circle cx="339.00" cy="78.46" r="0.8" fill="#000"/>
<circle cx="360.00" cy="84.33" r="0.8" fill="#000"/>
<circle cx="382.28" cy="85.97" r="0.8" fill="#000"/>
<circle cx="402.42" cy="88.65" r="0.8" fill="#000"/>
<polyline points="317.15,77.78 320.01,79.23 322.86,80.47 325.72,81.41 328.58,82.05 331.43,82.44 334.29,82.70 337.15,82.97 340.00,83.38 342.86,84.03 345.72,84.94 348.57,86.06 351.43,87.31 354.29,88.51 357.14,89.53 360.00,90.22 362.86,90.50 365.71,90.37 368.57,89.89 371.43,89.20 374.28,88.48 377.14,87.92 380.00,87.66 382.85,87.81 385.71,88.38 388.57,89.31 391.42,90.50 394.28,91.77 397.14,92.98 399.99,93.99 402.85,94.75" fill="none" stroke="#151515" stroke-width="0.36"/>
<circle cx="339.00" cy="83.21" r="0.8" fill="#000"/>
<circle cx="360.00" cy="90.22" r="0.8" fill="#000"/>
<circle cx="382.28" cy="87.74" r="0.8" fill="#000"/>
<circle cx="402.42" cy="94.66" r="0.8" fill="#000"/>
<circle cx="372.00" cy="89.05" r="0.8" fill="#000"/>
<circle cx="392.14" cy="90.81" r="0.8" fill="#000"/>
<polyline points="317.15,85.15 320.01,85.86 322.86,86.28 325.72,86.50 328.58,86.68 331.43,86.94 334.29,87.40 337.15,88.11 340.00,89.05 342.86,90.13 345.72,91.21 348.57,92.15 351.43,92.80 354.29,93.08 357.14,92.96 360.00,92.52 362.86,91.86 365.71,91.16 368.57,90.61 371.43,90.37 374.28,90.54 377.14,91.15 380.00,92.16 382.85,93.46 385.71,94.87 388.57,96.25 391.42,97.45 394.28,98.37 397.14,99.01 399.99,99.42 402.85,99.71" fill="none" stroke="#151515" stroke-width="0.36"/>
<circle cx="339.00" cy="88.70" r="0.8" fill="#000"/>
<circle cx="360.00" cy="92.52" r="0.8" fill="#000"/>
<circle cx="382.28" cy="93.18" r="0.8" fill="#000"/>
<circle cx="402.42" cy="99.67" r="0.8" fill="#000"/>
<polyline points="317.15,90.21 320.01,90.27 322.86,90.38 325.72,90.65 328.58,91.15 331.43,91.89 334.29,92.81 337.15,93.77 340.00,94.64 342.86,95.27 345.72,95.58 348.57,95.52 351.43,95.14 354.29,94.55 357.14,93.92 360.00,93.41 362.86,93.21 365.71,93.42 368.57,94.09 371.43,95.18 374.28,96.57 377.14,98.12 380.00,99.64 382.85,100.99 385.71,102.06 388.57,102.81 391.42,103.28 394.28,103.56 397.14,103.80 399.99,104.13 402.85,104.66" fill="none" stroke="#151515" stroke-width="0.36"/>
<circle cx="339.00" cy="94.36" r="0.8" fill="#000"/>
<circle cx="360.00" cy="93.41" r="0.8" fill="#000"/>
<circle cx="382.28" cy="100.74" r="0.8" fill="#000"/>
<circle cx="402.42" cy="104.56" r="0.8" fill="#000"/>
<circle cx="372.00" cy="95.44" r="0.8" fill="#000"/>
<circle cx="392.14" cy="103.36" r="0.8" fill="#000"/>
<polyline points="317.15,93.75 320.01,94.05 322.86,94.60 325.72,95.36 328.58,96.22 331.43,97.04 334.29,97.68 337.15,98.04 340.00,98.07 342.86,97.80 345.72,97.32 348.57,96.78 351.43,96.35 354.29,96.22 357.14,96.48 360.00,97.20 362.86,98.35 365.71,99.83 368.57,101.49 371.43,103.13 374.28,104.60 377.14,105.78 380.00,106.61 382.85,107.11 385.71,107.37 388.57,107.52 391.42,107.71 394.28,108.06 397.14,108.65 399.99,109.47 402.85,110.48" fill="none" stroke="#151515" stroke-width="0.36"/>
<circle cx="339.00" cy="98.10" r="0.8" fill="#000"/>
<circle cx="360.00" cy="97.20" r="0.8" fill="#000"/>
<circle cx="382.28" cy="107.03" r="0.8" fill="#000"/>
<circle cx="402.42" cy="110.32" r="0.8" fill="#000"/>
<polyline points="317.15,97.82 320.01,98.59 322.86,99.39 325.72,100.06 328.58,100.51 331.43,100.66 334.29,100.53 337.15,100.19 340.00,99.77 342.86,99.45 345.72,99.39 348.57,99.71 351.43,100.48 354.29,101.68 357.14,103.22 360.00,104.95 362.86,106.67 365.71,108.23 368.57,109.48 371.43,110.36 374.28,110.86 377.14,111.08 380.00,111.13 382.85,111.17 385.71,111.33 388.57,111.71 391.42,112.34 394.28,113.17 397.14,114.10 399.99,115.00 402.85,115.71" fill="none" stroke="#151515" stroke-width="0.36"/>
<circle cx="339.00" cy="99.91" r="0.8" fill="#000"/>
<circle cx="360.00" cy="104.95" r="0.8" fill="#000"/>
<circle cx="382.28" cy="111.16" r="0.8" fill="#000"/>
<circle cx="402.42" cy="115.62" r="0.8" fill="#000"/>
<circle cx="372.00" cy="110.49" r="0.8" fill="#000"/>
<circle cx="392.14" cy="112.53" r="0.8" fill="#000"/>
<polyline points="317.15,102.46 320.01,103.02 322.86,103.33 325.72,103.36 328.58,103.18 331.43,102.91 334.29,102.71 337.15,102.73 340.00,103.11 342.86,103.92 345.72,105.14 348.57,106.71 351.43,108.47 354.29,110.24 357.14,111.84 360.00,113.13 362.86,114.03 365.71,114.51 368.57,114.66 371.43,114.60 374.28,114.49 377.14,114.46 380.00,114.64 382.85,115.07 385.71,115.74 388.57,116.55 391.42,117.39 394.28,118.10 397.14,118.57 399.99,118.73 402.85,118.57" fill="none" stroke="#151515" stroke-width="0.36"/>
<circle cx="339.00" cy="102.93" r="0.8" fill="#000"/>
<circle cx="360.00" cy="113.13" r="0.8" fill="#000"/>
<circle cx="382.28" cy="114.97" r="0.8" fill="#000"/>
<circle cx="402.42" cy="118.61" r="0.8" fill="#000"/>
<polyline points="317.15,106.32 320.01,106.32 322.86,106.21 325.72,106.13 328.58,106.23 331.43,106.66 334.29,107.48 337.15,108.70 340.00,110.26 342.86,112.01 345.72,113.79 348.57,115.40 351.43,116.69 354.29,117.58 357.14,118.03 360.00,118.10 362.86,117.93 365.71,117.66 368.57,117.45 371.43,117.44 374.28,117.69 377.14,118.21 380.00,118.93 382.85,119.73 385.71,120.46 388.57,121.01 391.42,121.29 394.28,121.27 397.14,121.02 399.99,120.64 402.85,120.31" fill="none" stroke="#151515" stroke-width="0.36"/>
<circle cx="339.00" cy="109.68" r="0.8" fill="#000"/>
<circle cx="360.00" cy="118.10" r="0.8" fill="#000"/>
<circle cx="382.28" cy="119.57" r="0.8" fill="#000"/>
<circle cx="402.42" cy="120.35" r="0.8" fill="#000"/>
<circle cx="372.00" cy="117.47" r="0.8" fill="#000"/>
<circle cx="392.14" cy="121.31" r="0.8" fill="#000"/>
<polyline points="317.15,109.70 320.01,109.88 322.86,110.33 325.72,111.13 328.58,112.32 331.43,113.83 334.29,115.54 337.15,117.28 340.00,118.86 342.86,120.13 345.72,120.98 348.57,121.38 351.43,121.38 354.29,121.09 357.14,120.68 360.00,120.31 362.86,120.13 365.71,120.23 368.57,120.63 371.43,121.27 374.28,122.06 377.14,122.84 380.00,123.50 382.85,123.92 385.71,124.08 388.57,124.00 391.42,123.78 394.28,123.57 397.14,123.53 399.99,123.80 402.85,124.48" fill="none" stroke="#151515" stroke-width="0.36"/>
<circle cx="339.00" cy="118.34" r="0.8" fill="#000"/>
<circle cx="360.00" cy="120.31" r="0.8" fill="#000"/>
<circle cx="382.28" cy="123.86" r="0.8" fill="#000"/>
<circle cx="402.42" cy="124.35" r="0.8" fill="#000"/>
<polyline points="317.15,113.44 320.01,114.56 322.86,115.98 325.72,117.61 328.58,119.27 331.43,120.79 334.29,122.01 337.15,122.81 340.00,123.15 342.86,123.08 345.72,122.69 348.57,122.16 351.43,121.65 354.29,121.33 357.14,121.31 360.00,121.61 362.86,122.21 365.71,123.01 368.57,123.87 371.43,124.66 374.28,125.25 377.14,125.60 380.00,125.71 382.85,125.66 385.71,125.59 388.57,125.64 391.42,125.96 394.28,126.66 397.14,127.76 399.99,129.22 402.85,130.93" fill="none" stroke="#151515" stroke-width="0.36"/>
<circle cx="339.00" cy="123.08" r="0.8" fill="#000"/>
<circle cx="360.00" cy="121.61" r="0.8" fill="#000"/>
<circle cx="382.28" cy="125.68" r="0.8" fill="#000"/>
<circle cx="402.42" cy="130.66" r="0.8" fill="#000"/>
<circle cx="372.00" cy="124.79" r="0.8" fill="#000"/>
<circle cx="392.14" cy="126.10" r="0.8" fill="#000"/>
</g>
<polygon points="292.70,82.90 378.40,98.90 402.85,85.50 317.15,69.50" fill="url(#b1h)" />
<polygon points="326.98,89.30 378.40,98.90 402.85,85.50 351.43,75.90" fill="url(#b1hfade)" />
<polyline points="296.37,80.89 300.65,81.69 304.94,82.49 309.22,83.29 313.51,84.09 317.79,84.89 322.08,85.69 326.36,86.49 330.65,87.29 334.93,88.09 339.22,88.89 343.50,89.69 347.79,90.49 352.07,91.29 356.36,92.09 360.64,92.89 364.93,93.69 369.21,94.49 373.50,95.29 377.78,96.09 382.07,96.89" fill="none" stroke="#111" stroke-width="0.42"/>
<circle cx="317.79" cy="84.89" r="0.85" fill="#000"/>
<circle cx="349.93" cy="90.89" r="0.85" fill="#000"/>
<circle cx="371.36" cy="94.89" r="0.85" fill="#000"/>
<polyline points="300.03,78.88 304.32,79.68 308.61,80.48 312.89,81.28 317.18,82.08 321.46,82.88 325.75,83.68 330.03,84.48 334.31,85.28 338.60,86.08 342.88,86.88 347.17,87.68 351.45,88.48 355.74,89.28 360.02,90.08 364.31,90.88 368.59,91.68 372.88,92.48 377.16,93.28 381.45,94.08 385.74,94.88" fill="none" stroke="#111" stroke-width="0.42"/>
<circle cx="321.46" cy="82.88" r="0.85" fill="#000"/>
<circle cx="353.60" cy="88.88" r="0.85" fill="#000"/>
<circle cx="375.02" cy="92.88" r="0.85" fill="#000"/>
<polyline points="303.70,76.87 307.99,77.67 312.27,78.47 316.56,79.27 320.84,80.07 325.13,80.87 329.41,81.67 333.70,82.47 337.98,83.27 342.27,84.07 346.55,84.87 350.84,85.67 355.12,86.47 359.41,87.27 363.69,88.07 367.98,88.87 372.26,89.67 376.55,90.47 380.83,91.27 385.12,92.07 389.40,92.87" fill="none" stroke="#111" stroke-width="0.42"/>
<circle cx="325.13" cy="80.87" r="0.85" fill="#000"/>
<circle cx="357.26" cy="86.87" r="0.85" fill="#000"/>
<circle cx="378.69" cy="90.87" r="0.85" fill="#000"/>
<polyline points="307.37,74.86 311.65,75.66 315.94,76.46 320.23,77.26 324.51,78.06 328.79,78.86 333.08,79.66 337.37,80.46 341.65,81.26 345.93,82.06 350.22,82.86 354.50,83.66 358.79,84.46 363.08,85.26 367.36,86.06 371.64,86.86 375.93,87.66 380.22,88.46 384.50,89.26 388.78,90.06 393.07,90.86" fill="none" stroke="#111" stroke-width="0.42"/>
<circle cx="328.79" cy="78.86" r="0.85" fill="#000"/>
<circle cx="360.93" cy="84.86" r="0.85" fill="#000"/>
<circle cx="382.36" cy="88.86" r="0.85" fill="#000"/>
<polyline points="311.04,72.85 315.32,73.65 319.61,74.45 323.89,75.25 328.18,76.05 332.46,76.85 336.75,77.65 341.03,78.45 345.32,79.25 349.60,80.05 353.89,80.85 358.17,81.65 362.46,82.45 366.74,83.25 371.03,84.05 375.31,84.85 379.60,85.65 383.88,86.45 388.17,87.25 392.45,88.05 396.74,88.85" fill="none" stroke="#111" stroke-width="0.42"/>
<circle cx="332.46" cy="76.85" r="0.85" fill="#000"/>
<circle cx="364.60" cy="82.85" r="0.85" fill="#000"/>
<circle cx="386.02" cy="86.85" r="0.85" fill="#000"/>
<polyline points="314.70,70.84 318.99,71.64 323.28,72.44 327.56,73.24 331.85,74.04 336.13,74.84 340.42,75.64 344.70,76.44 348.99,77.24 353.27,78.04 357.56,78.84 361.84,79.64 366.12,80.44 370.41,81.24 374.69,82.04 378.98,82.84 383.26,83.64 387.55,84.44 391.83,85.24 396.12,86.04 400.41,86.84" fill="none" stroke="#111" stroke-width="0.42"/>
<circle cx="336.13" cy="74.84" r="0.85" fill="#000"/>
<circle cx="368.27" cy="80.84" r="0.85" fill="#000"/>
<circle cx="389.69" cy="84.84" r="0.85" fill="#000"/>
<g opacity="0.68"><line x1="331.9" y1="19.4" x2="299.4" y2="75" stroke="#b0b0b0" stroke-width="4.0" stroke-linecap="round"/><line x1="331.9" y1="19.4" x2="299.4" y2="75" stroke="#dedede" stroke-width="1.80" stroke-linecap="round" opacity="0.8"/></g>
<g opacity="0.68"><line x1="350" y1="47.5" x2="299.4" y2="75" stroke="#b0b0b0" stroke-width="4.0" stroke-linecap="round"/><line x1="350" y1="47.5" x2="299.4" y2="75" stroke="#dedede" stroke-width="1.80" stroke-linecap="round" opacity="0.8"/></g>
<g opacity="0.68"><line x1="357" y1="47.5" x2="339.8" y2="75" stroke="#b0b0b0" stroke-width="4.0" stroke-linecap="round"/><line x1="357" y1="47.5" x2="339.8" y2="75" stroke="#dedede" stroke-width="1.80" stroke-linecap="round" opacity="0.8"/></g>
<g opacity="0.68"><line x1="342.7" y1="31.6" x2="313.9" y2="67.7" stroke="#b0b0b0" stroke-width="4.0" stroke-linecap="round"/><line x1="342.7" y1="31.6" x2="313.9" y2="67.7" stroke="#dedede" stroke-width="1.80" stroke-linecap="round" opacity="0.8"/></g>
<g opacity="0.68"><line x1="293.7" y1="50.4" x2="332.6" y2="72" stroke="#b0b0b0" stroke-width="4.0" stroke-linecap="round"/><line x1="293.7" y1="50.4" x2="332.6" y2="72" stroke="#dedede" stroke-width="1.80" stroke-linecap="round" opacity="0.8"/></g>
<g opacity="0.68"><line x1="323.2" y1="51.8" x2="308" y2="75" stroke="#b0b0b0" stroke-width="4.0" stroke-linecap="round"/><line x1="323.2" y1="51.8" x2="308" y2="75" stroke="#dedede" stroke-width="1.80" stroke-linecap="round" opacity="0.8"/></g>
<g opacity="0.68"><line x1="328.3" y1="55.5" x2="316.7" y2="75" stroke="#b0b0b0" stroke-width="4.0" stroke-linecap="round"/><line x1="328.3" y1="55.5" x2="316.7" y2="75" stroke="#dedede" stroke-width="1.80" stroke-linecap="round" opacity="0.8"/></g>
<g opacity="0.68"><line x1="383" y1="39.6" x2="373" y2="75" stroke="#b0b0b0" stroke-width="4.0" stroke-linecap="round"/><line x1="383" y1="39.6" x2="373" y2="75" stroke="#dedede" stroke-width="1.80" stroke-linecap="round" opacity="0.8"/></g>
<g opacity="0.68"><line x1="397.5" y1="58.3" x2="388.9" y2="75" stroke="#b0b0b0" stroke-width="4.0" stroke-linecap="round"/><line x1="397.5" y1="58.3" x2="388.9" y2="75" stroke="#dedede" stroke-width="1.80" stroke-linecap="round" opacity="0.8"/></g>
<g opacity="0.68"><line x1="373" y1="54.7" x2="360" y2="69" stroke="#b0b0b0" stroke-width="4.0" stroke-linecap="round"/><line x1="373" y1="54.7" x2="360" y2="69" stroke="#dedede" stroke-width="1.80" stroke-linecap="round" opacity="0.8"/></g>
<g opacity="0.68"><line x1="304.4" y1="82.4" x2="305.2" y2="129.1" stroke="#b0b0b0" stroke-width="4.0" stroke-linecap="round"/><line x1="304.4" y1="82.4" x2="305.2" y2="129.1" stroke="#dedede" stroke-width="1.80" stroke-linecap="round" opacity="0.8"/></g>
<g opacity="0.68"><line x1="358" y1="70" x2="316.1" y2="130.7" stroke="#b0b0b0" stroke-width="4.0" stroke-linecap="round"/><line x1="358" y1="70" x2="316.1" y2="130.7" stroke="#dedede" stroke-width="1.80" stroke-linecap="round" opacity="0.8"/></g>
<g opacity="0.68"><line x1="299" y1="108" x2="336.3" y2="107.3" stroke="#b0b0b0" stroke-width="4.0" stroke-linecap="round"/><line x1="299" y1="108" x2="336.3" y2="107.3" stroke="#dedede" stroke-width="1.80" stroke-linecap="round" opacity="0.8"/></g>
<g opacity="0.68"><line x1="306.8" y1="90.2" x2="350.3" y2="105.8" stroke="#b0b0b0" stroke-width="4.0" stroke-linecap="round"/><line x1="306.8" y1="90.2" x2="350.3" y2="105.8" stroke="#dedede" stroke-width="1.80" stroke-linecap="round" opacity="0.8"/></g>
<g opacity="0.68"><line x1="341" y1="71.6" x2="319.2" y2="132.2" stroke="#b0b0b0" stroke-width="4.0" stroke-linecap="round"/><line x1="341" y1="71.6" x2="319.2" y2="132.2" stroke="#dedede" stroke-width="1.80" stroke-linecap="round" opacity="0.8"/></g>
<g opacity="0.68"><line x1="313" y1="132.2" x2="353.4" y2="116.7" stroke="#b0b0b0" stroke-width="4.0" stroke-linecap="round"/><line x1="313" y1="132.2" x2="353.4" y2="116.7" stroke="#dedede" stroke-width="1.80" stroke-linecap="round" opacity="0.8"/></g>
<g opacity="0.68"><line x1="327" y1="88.7" x2="341" y2="132.2" stroke="#b0b0b0" stroke-width="4.0" stroke-linecap="round"/><line x1="327" y1="88.7" x2="341" y2="132.2" stroke="#dedede" stroke-width="1.80" stroke-linecap="round" opacity="0.8"/></g>
<g opacity="0.68"><line x1="316.1" y1="73.1" x2="344.1" y2="85.6" stroke="#b0b0b0" stroke-width="4.0" stroke-linecap="round"/><line x1="316.1" y1="73.1" x2="344.1" y2="85.6" stroke="#dedede" stroke-width="1.80" stroke-linecap="round" opacity="0.8"/></g>
<g opacity="0.68"><line x1="383.3" y1="96.7" x2="380" y2="128.3" stroke="#b0b0b0" stroke-width="4.0" stroke-linecap="round"/><line x1="383.3" y1="96.7" x2="380" y2="128.3" stroke="#dedede" stroke-width="1.80" stroke-linecap="round" opacity="0.8"/></g>
<g opacity="0.68"><line x1="391.7" y1="120" x2="388.3" y2="131.7" stroke="#b0b0b0" stroke-width="4.0" stroke-linecap="round"/><line x1="391.7" y1="120" x2="388.3" y2="131.7" stroke="#dedede" stroke-width="1.80" stroke-linecap="round" opacity="0.8"/></g>
<g opacity="0.68"><line x1="355" y1="106.7" x2="400" y2="113.3" stroke="#b0b0b0" stroke-width="4.0" stroke-linecap="round"/><line x1="355" y1="106.7" x2="400" y2="113.3" stroke="#dedede" stroke-width="1.80" stroke-linecap="round" opacity="0.8"/></g>
<g opacity="0.68"><line x1="376.7" y1="65" x2="365" y2="101.7" stroke="#b0b0b0" stroke-width="4.0" stroke-linecap="round"/><line x1="376.7" y1="65" x2="365" y2="101.7" stroke="#dedede" stroke-width="1.80" stroke-linecap="round" opacity="0.8"/></g>
<g opacity="0.68"><line x1="393.3" y1="65" x2="385" y2="86.7" stroke="#b0b0b0" stroke-width="4.0" stroke-linecap="round"/><line x1="393.3" y1="65" x2="385" y2="86.7" stroke="#dedede" stroke-width="1.80" stroke-linecap="round" opacity="0.8"/></g>
<g opacity="0.68"><line x1="351.3" y1="47" x2="328" y2="110" stroke="#b0b0b0" stroke-width="4.0" stroke-linecap="round"/><line x1="351.3" y1="47" x2="328" y2="110" stroke="#dedede" stroke-width="1.80" stroke-linecap="round" opacity="0.8"/></g>
<g opacity="0.68"><line x1="373.1" y1="55.6" x2="343.5" y2="86.7" stroke="#b0b0b0" stroke-width="4.0" stroke-linecap="round"/><line x1="373.1" y1="55.6" x2="343.5" y2="86.7" stroke="#dedede" stroke-width="1.80" stroke-linecap="round" opacity="0.8"/></g>
<g opacity="0.68"><line x1="351" y1="47" x2="300" y2="68" stroke="#b0b0b0" stroke-width="4.0" stroke-linecap="round"/><line x1="351" y1="47" x2="300" y2="68" stroke="#dedede" stroke-width="1.80" stroke-linecap="round" opacity="0.8"/></g>
<g opacity="0.68"><line x1="300" y1="77.3" x2="380" y2="86.7" stroke="#b0b0b0" stroke-width="4.0" stroke-linecap="round"/><line x1="300" y1="77.3" x2="380" y2="86.7" stroke="#dedede" stroke-width="1.80" stroke-linecap="round" opacity="0.8"/></g>
<g opacity="0.68"><line x1="373" y1="78.9" x2="359" y2="110" stroke="#b0b0b0" stroke-width="4.0" stroke-linecap="round"/><line x1="373" y1="78.9" x2="359" y2="110" stroke="#dedede" stroke-width="1.80" stroke-linecap="round" opacity="0.8"/></g>
<g opacity="0.68"><line x1="300" y1="92.9" x2="380" y2="99" stroke="#b0b0b0" stroke-width="4.0" stroke-linecap="round"/><line x1="300" y1="92.9" x2="380" y2="99" stroke="#dedede" stroke-width="1.80" stroke-linecap="round" opacity="0.8"/></g>
<g opacity="0.68"><line x1="320" y1="130" x2="356" y2="102" stroke="#b0b0b0" stroke-width="4.0" stroke-linecap="round"/><line x1="320" y1="130" x2="356" y2="102" stroke="#dedede" stroke-width="1.80" stroke-linecap="round" opacity="0.8"/></g>
<g opacity="0.68"><line x1="352" y1="130" x2="364" y2="98" stroke="#b0b0b0" stroke-width="4.0" stroke-linecap="round"/><line x1="352" y1="130" x2="364" y2="98" stroke="#dedede" stroke-width="1.80" stroke-linecap="round" opacity="0.8"/></g>
<g opacity="0.68"><line x1="370.7" y1="116.7" x2="376" y2="98" stroke="#b0b0b0" stroke-width="4.0" stroke-linecap="round"/><line x1="370.7" y1="116.7" x2="376" y2="98" stroke="#dedede" stroke-width="1.80" stroke-linecap="round" opacity="0.8"/></g>
<g opacity="0.68"><line x1="381.3" y1="122" x2="384" y2="102" stroke="#b0b0b0" stroke-width="4.0" stroke-linecap="round"/><line x1="381.3" y1="122" x2="384" y2="102" stroke="#dedede" stroke-width="1.80" stroke-linecap="round" opacity="0.8"/></g>
<g opacity="0.68"><line x1="389.3" y1="130" x2="392" y2="119.3" stroke="#b0b0b0" stroke-width="4.0" stroke-linecap="round"/><line x1="389.3" y1="130" x2="392" y2="119.3" stroke="#dedede" stroke-width="1.80" stroke-linecap="round" opacity="0.8"/></g>
<g opacity="0.68"><line x1="330.7" y1="112.7" x2="341.3" y2="131.3" stroke="#b0b0b0" stroke-width="4.0" stroke-linecap="round"/><line x1="330.7" y1="112.7" x2="341.3" y2="131.3" stroke="#dedede" stroke-width="1.80" stroke-linecap="round" opacity="0.8"/></g>
<g opacity="0.68"><line x1="377.3" y1="102" x2="397.3" y2="95.3" stroke="#b0b0b0" stroke-width="4.0" stroke-linecap="round"/><line x1="377.3" y1="102" x2="397.3" y2="95.3" stroke="#dedede" stroke-width="1.80" stroke-linecap="round" opacity="0.8"/></g>
<g opacity="0.68"><line x1="296" y1="60" x2="312" y2="40" stroke="#b0b0b0" stroke-width="4.0" stroke-linecap="round"/><line x1="296" y1="60" x2="312" y2="40" stroke="#dedede" stroke-width="1.80" stroke-linecap="round" opacity="0.8"/></g>
<g opacity="0.68"><line x1="292" y1="95" x2="318" y2="84" stroke="#b0b0b0" stroke-width="4.0" stroke-linecap="round"/><line x1="292" y1="95" x2="318" y2="84" stroke="#dedede" stroke-width="1.80" stroke-linecap="round" opacity="0.8"/></g>
<g opacity="0.68"><line x1="322.8" y1="28.8" x2="310" y2="52" stroke="#b0b0b0" stroke-width="4.0" stroke-linecap="round"/><line x1="322.8" y1="28.8" x2="310" y2="52" stroke="#dedede" stroke-width="1.80" stroke-linecap="round" opacity="0.8"/></g>
<g opacity="0.68"><line x1="300" y1="100" x2="345" y2="120" stroke="#b0b0b0" stroke-width="4.0" stroke-linecap="round"/><line x1="300" y1="100" x2="345" y2="120" stroke="#dedede" stroke-width="1.80" stroke-linecap="round" opacity="0.8"/></g>
<g opacity="0.68"><line x1="318" y1="125" x2="346" y2="96" stroke="#b0b0b0" stroke-width="4.0" stroke-linecap="round"/><line x1="318" y1="125" x2="346" y2="96" stroke="#dedede" stroke-width="1.80" stroke-linecap="round" opacity="0.8"/></g>
<g opacity="0.68"><line x1="296" y1="118" x2="330" y2="125" stroke="#b0b0b0" stroke-width="4.0" stroke-linecap="round"/><line x1="296" y1="118" x2="330" y2="125" stroke="#dedede" stroke-width="1.80" stroke-linecap="round" opacity="0.8"/></g>
<g opacity="0.68"><line x1="325" y1="100" x2="310" y2="132" stroke="#b0b0b0" stroke-width="4.0" stroke-linecap="round"/><line x1="325" y1="100" x2="310" y2="132" stroke="#dedede" stroke-width="1.80" stroke-linecap="round" opacity="0.8"/></g>
<g opacity="0.68"><line x1="336" y1="98" x2="368" y2="120" stroke="#b0b0b0" stroke-width="4.0" stroke-linecap="round"/><line x1="336" y1="98" x2="368" y2="120" stroke="#dedede" stroke-width="1.80" stroke-linecap="round" opacity="0.8"/></g>
<g opacity="0.68"><line x1="292" y1="72" x2="340" y2="88" stroke="#b0b0b0" stroke-width="4.0" stroke-linecap="round"/><line x1="292" y1="72" x2="340" y2="88" stroke="#dedede" stroke-width="1.80" stroke-linecap="round" opacity="0.8"/></g>
<g opacity="0.68"><line x1="332" y1="60" x2="360" y2="40" stroke="#b0b0b0" stroke-width="4.0" stroke-linecap="round"/><line x1="332" y1="60" x2="360" y2="40" stroke="#dedede" stroke-width="1.80" stroke-linecap="round" opacity="0.8"/></g>
<g opacity="0.68"><line x1="306" y1="110" x2="352" y2="88" stroke="#b0b0b0" stroke-width="4.0" stroke-linecap="round"/><line x1="306" y1="110" x2="352" y2="88" stroke="#dedede" stroke-width="1.80" stroke-linecap="round" opacity="0.8"/></g>
<path d="M333 134 L352 139.3" stroke="#c8c8c8" stroke-width="3" stroke-linecap="round" opacity="0.7"/>
<text x="285.6" y="38.6" font-size="8.6" text-anchor="end" fill="#1a1a1a" color="#1a1a1a" font-weight="normal" >200</text>
<text x="285.6" y="62.1" font-size="8.6" text-anchor="end" fill="#1a1a1a" color="#1a1a1a" font-weight="normal" >100</text>
<text x="285.6" y="86.1" font-size="8.6" text-anchor="end" fill="#1a1a1a" color="#1a1a1a" font-weight="normal" >0</text>
<text x="285.6" y="109.19999999999999" font-size="8.6" text-anchor="end" fill="#1a1a1a" color="#1a1a1a" font-weight="normal" >−100</text>
<text x="285.6" y="132.4" font-size="8.6" text-anchor="end" fill="#1a1a1a" color="#1a1a1a" font-weight="normal" >−200</text>
<text x="285.7" y="143.1" font-size="8.6" text-anchor="middle" fill="#1a1a1a" color="#1a1a1a" font-weight="normal" >−200</text>
<text x="311.1" y="147.1" font-size="8.6" text-anchor="middle" fill="#1a1a1a" color="#1a1a1a" font-weight="normal" >−100</text>
<text x="334.85" y="150.6" font-size="8.6" text-anchor="middle" fill="#1a1a1a" color="#1a1a1a" font-weight="normal" >0</text>
<text x="356.1" y="155.79999999999998" font-size="8.6" text-anchor="middle" fill="#1a1a1a" color="#1a1a1a" font-weight="normal" >100</text>
<text x="376.5" y="158.29999999999998" font-size="8.6" text-anchor="middle" fill="#1a1a1a" color="#1a1a1a" font-weight="normal" >200</text>
<text x="407.5" y="144.79999999999998" font-size="8.6" text-anchor="middle" fill="#1a1a1a" color="#1a1a1a" font-weight="normal" >0</text>
<text x="437.5" y="127.1" font-size="8.6" text-anchor="middle" fill="#1a1a1a" color="#1a1a1a" font-weight="normal" >200</text>
<text x="0" y="0" font-size="10.3" text-anchor="middle" fill="#1a1a1a" color="#1a1a1a" transform="translate(268 82.5) rotate(-90)">z (nm)</text>
<text x="0" y="0" font-size="9.8" text-anchor="middle" fill="#1a1a1a" color="#1a1a1a" transform="translate(331 160.5) rotate(10)"><tspan font-style="italic">y</tspan> (nm)</text>
<text x="0" y="0" font-size="9.8" text-anchor="middle" fill="#1a1a1a" color="#1a1a1a" transform="translate(415 153) rotate(-34)">x (nm)</text>
<text x="366.4" y="10.4" font-size="10.8" text-anchor="start" fill="#1a1a1a" color="#1a1a1a" font-weight="normal" >Flow-through</text>
<text x="285.6" y="191.2" font-size="8.6" text-anchor="end" fill="#1a1a1a" color="#1a1a1a" font-weight="normal" >200</text>
<text x="285.6" y="214.7" font-size="8.6" text-anchor="end" fill="#1a1a1a" color="#1a1a1a" font-weight="normal" >100</text>
<text x="285.6" y="238.7" font-size="8.6" text-anchor="end" fill="#1a1a1a" color="#1a1a1a" font-weight="normal" >0</text>
<text x="285.6" y="261.8" font-size="8.6" text-anchor="end" fill="#1a1a1a" color="#1a1a1a" font-weight="normal" >−100</text>
<text x="285.6" y="285.0" font-size="8.6" text-anchor="end" fill="#1a1a1a" color="#1a1a1a" font-weight="normal" >−200</text>
<text x="285.7" y="295.70000000000005" font-size="8.6" text-anchor="middle" fill="#1a1a1a" color="#1a1a1a" font-weight="normal" >−200</text>
<text x="311.1" y="299.70000000000005" font-size="8.6" text-anchor="middle" fill="#1a1a1a" color="#1a1a1a" font-weight="normal" >−100</text>
<text x="334.85" y="303.20000000000005" font-size="8.6" text-anchor="middle" fill="#1a1a1a" color="#1a1a1a" font-weight="normal" >0</text>
<text x="356.1" y="308.4" font-size="8.6" text-anchor="middle" fill="#1a1a1a" color="#1a1a1a" font-weight="normal" >100</text>
<text x="376.5" y="310.9" font-size="8.6" text-anchor="middle" fill="#1a1a1a" color="#1a1a1a" font-weight="normal" >200</text>
<text x="407.5" y="297.4" font-size="8.6" text-anchor="middle" fill="#1a1a1a" color="#1a1a1a" font-weight="normal" >0</text>
<text x="437.5" y="279.70000000000005" font-size="8.6" text-anchor="middle" fill="#1a1a1a" color="#1a1a1a" font-weight="normal" >200</text>
<text x="0" y="0" font-size="10.3" text-anchor="middle" fill="#1a1a1a" color="#1a1a1a" transform="translate(268 235.1) rotate(-90)">z (nm)</text>
<text x="0" y="0" font-size="9.8" text-anchor="middle" fill="#1a1a1a" color="#1a1a1a" transform="translate(331 313.1) rotate(10)"><tspan font-style="italic">y</tspan> (nm)</text>
<text x="0" y="0" font-size="9.8" text-anchor="middle" fill="#1a1a1a" color="#1a1a1a" transform="translate(415 305.6) rotate(-34)">x (nm)</text>
<text x="381.6" y="183.6" font-size="10.8" text-anchor="start" fill="#1a1a1a" color="#1a1a1a" font-weight="normal" >Flow-by</text>
<text x="272.8" y="17.3" font-size="12" text-anchor="start" fill="#000" color="#000" font-weight="bold" >b</text>
<text x="280.2" y="20.3" font-size="8" text-anchor="start" fill="#000" color="#000" font-weight="bold" >1</text>
<text x="272.8" y="170.3" font-size="12" text-anchor="start" fill="#000" color="#000" font-weight="bold" >b</text>
<text x="280.2" y="173.3" font-size="8" text-anchor="start" fill="#000" color="#000" font-weight="bold" >2</text>
<rect x="448.3" y="30" width="4.5" height="113" fill="url(#jet)" />
<text x="454.6" y="145.4" font-size="8.2" text-anchor="start" fill="#1a1a1a" color="#1a1a1a" font-weight="normal" >0</text>
<text x="454.6" y="122.9" font-size="8.2" text-anchor="start" fill="#1a1a1a" color="#1a1a1a" font-weight="normal" >0.2</text>
<text x="454.6" y="100.4" font-size="8.2" text-anchor="start" fill="#1a1a1a" color="#1a1a1a" font-weight="normal" >0.4</text>
<text x="454.6" y="77.9" font-size="8.2" text-anchor="start" fill="#1a1a1a" color="#1a1a1a" font-weight="normal" >0.6</text>
<text x="454.6" y="55.4" font-size="8.2" text-anchor="start" fill="#1a1a1a" color="#1a1a1a" font-weight="normal" >0.8</text>
<text x="454.6" y="32.9" font-size="8.2" text-anchor="start" fill="#1a1a1a" color="#1a1a1a" font-weight="normal" >1.0</text>
<text x="436" y="21.1" font-size="7.8" text-anchor="start" fill="#1a1a1a" color="#1a1a1a" font-weight="normal" ><tspan font-style="italic">C</tspan>/<tspan font-style="italic">C</tspan><tspan font-size="5.5" baseline-shift="-1.92">0</tspan> (a.u.)</text>
</svg></body></html>
